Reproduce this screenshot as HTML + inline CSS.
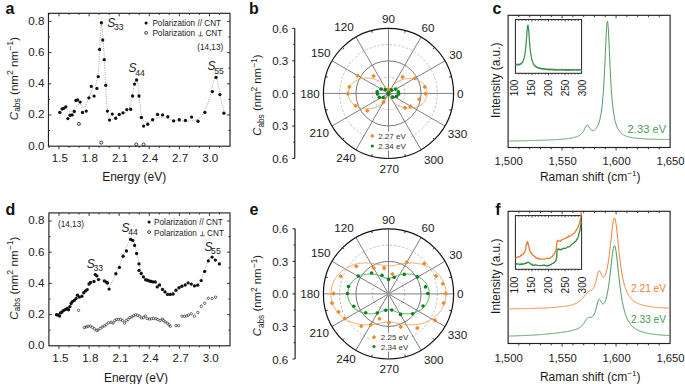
<!DOCTYPE html>
<html><head><meta charset="utf-8"><style>
html,body{margin:0;padding:0;background:#fff;overflow:hidden;width:685px;height:384px;}
svg{display:block;font-family:"Liberation Sans", sans-serif;}
</style></head><body>
<svg width="685" height="384" viewBox="0 0 685 384">
<rect width="685" height="384" fill="#fff"/>
<line x1="48.97" y1="146.2" x2="48.97" y2="147.8" stroke="#222" stroke-width="0.9"/>
<line x1="48.97" y1="13.3" x2="48.97" y2="14.9" stroke="#222" stroke-width="0.9"/>
<line x1="59" y1="146.2" x2="59" y2="149.2" stroke="#222" stroke-width="0.9"/>
<line x1="59" y1="13.3" x2="59" y2="16.3" stroke="#222" stroke-width="0.9"/>
<line x1="69.03" y1="146.2" x2="69.03" y2="147.8" stroke="#222" stroke-width="0.9"/>
<line x1="69.03" y1="13.3" x2="69.03" y2="14.9" stroke="#222" stroke-width="0.9"/>
<line x1="79.06" y1="146.2" x2="79.06" y2="147.8" stroke="#222" stroke-width="0.9"/>
<line x1="79.06" y1="13.3" x2="79.06" y2="14.9" stroke="#222" stroke-width="0.9"/>
<line x1="89.09" y1="146.2" x2="89.09" y2="149.2" stroke="#222" stroke-width="0.9"/>
<line x1="89.09" y1="13.3" x2="89.09" y2="16.3" stroke="#222" stroke-width="0.9"/>
<line x1="99.12" y1="146.2" x2="99.12" y2="147.8" stroke="#222" stroke-width="0.9"/>
<line x1="99.12" y1="13.3" x2="99.12" y2="14.9" stroke="#222" stroke-width="0.9"/>
<line x1="109.15" y1="146.2" x2="109.15" y2="147.8" stroke="#222" stroke-width="0.9"/>
<line x1="109.15" y1="13.3" x2="109.15" y2="14.9" stroke="#222" stroke-width="0.9"/>
<line x1="119.18" y1="146.2" x2="119.18" y2="149.2" stroke="#222" stroke-width="0.9"/>
<line x1="119.18" y1="13.3" x2="119.18" y2="16.3" stroke="#222" stroke-width="0.9"/>
<line x1="129.21" y1="146.2" x2="129.21" y2="147.8" stroke="#222" stroke-width="0.9"/>
<line x1="129.21" y1="13.3" x2="129.21" y2="14.9" stroke="#222" stroke-width="0.9"/>
<line x1="139.24" y1="146.2" x2="139.24" y2="147.8" stroke="#222" stroke-width="0.9"/>
<line x1="139.24" y1="13.3" x2="139.24" y2="14.9" stroke="#222" stroke-width="0.9"/>
<line x1="149.27" y1="146.2" x2="149.27" y2="149.2" stroke="#222" stroke-width="0.9"/>
<line x1="149.27" y1="13.3" x2="149.27" y2="16.3" stroke="#222" stroke-width="0.9"/>
<line x1="159.3" y1="146.2" x2="159.3" y2="147.8" stroke="#222" stroke-width="0.9"/>
<line x1="159.3" y1="13.3" x2="159.3" y2="14.9" stroke="#222" stroke-width="0.9"/>
<line x1="169.33" y1="146.2" x2="169.33" y2="147.8" stroke="#222" stroke-width="0.9"/>
<line x1="169.33" y1="13.3" x2="169.33" y2="14.9" stroke="#222" stroke-width="0.9"/>
<line x1="179.36" y1="146.2" x2="179.36" y2="149.2" stroke="#222" stroke-width="0.9"/>
<line x1="179.36" y1="13.3" x2="179.36" y2="16.3" stroke="#222" stroke-width="0.9"/>
<line x1="189.39" y1="146.2" x2="189.39" y2="147.8" stroke="#222" stroke-width="0.9"/>
<line x1="189.39" y1="13.3" x2="189.39" y2="14.9" stroke="#222" stroke-width="0.9"/>
<line x1="199.42" y1="146.2" x2="199.42" y2="147.8" stroke="#222" stroke-width="0.9"/>
<line x1="199.42" y1="13.3" x2="199.42" y2="14.9" stroke="#222" stroke-width="0.9"/>
<line x1="209.45" y1="146.2" x2="209.45" y2="149.2" stroke="#222" stroke-width="0.9"/>
<line x1="209.45" y1="13.3" x2="209.45" y2="16.3" stroke="#222" stroke-width="0.9"/>
<line x1="219.48" y1="146.2" x2="219.48" y2="147.8" stroke="#222" stroke-width="0.9"/>
<line x1="219.48" y1="13.3" x2="219.48" y2="14.9" stroke="#222" stroke-width="0.9"/>
<line x1="48.45" y1="130.6" x2="50.05" y2="130.6" stroke="#222" stroke-width="0.9"/>
<line x1="230" y1="130.6" x2="228.4" y2="130.6" stroke="#222" stroke-width="0.9"/>
<line x1="48.45" y1="115" x2="51.45" y2="115" stroke="#222" stroke-width="0.9"/>
<line x1="230" y1="115" x2="227" y2="115" stroke="#222" stroke-width="0.9"/>
<line x1="48.45" y1="99.4" x2="50.05" y2="99.4" stroke="#222" stroke-width="0.9"/>
<line x1="230" y1="99.4" x2="228.4" y2="99.4" stroke="#222" stroke-width="0.9"/>
<line x1="48.45" y1="83.8" x2="51.45" y2="83.8" stroke="#222" stroke-width="0.9"/>
<line x1="230" y1="83.8" x2="227" y2="83.8" stroke="#222" stroke-width="0.9"/>
<line x1="48.45" y1="68.2" x2="50.05" y2="68.2" stroke="#222" stroke-width="0.9"/>
<line x1="230" y1="68.2" x2="228.4" y2="68.2" stroke="#222" stroke-width="0.9"/>
<line x1="48.45" y1="52.6" x2="51.45" y2="52.6" stroke="#222" stroke-width="0.9"/>
<line x1="230" y1="52.6" x2="227" y2="52.6" stroke="#222" stroke-width="0.9"/>
<line x1="48.45" y1="37" x2="50.05" y2="37" stroke="#222" stroke-width="0.9"/>
<line x1="230" y1="37" x2="228.4" y2="37" stroke="#222" stroke-width="0.9"/>
<line x1="48.45" y1="21.4" x2="51.45" y2="21.4" stroke="#222" stroke-width="0.9"/>
<line x1="230" y1="21.4" x2="227" y2="21.4" stroke="#222" stroke-width="0.9"/>
<rect x="48.45" y="13.3" width="181.55" height="132.9" fill="none" stroke="#222" stroke-width="1.15"/>
<text x="59.8" y="161.5" font-size="11.6" text-anchor="middle" fill="#1a1a1a">1.5</text>
<text x="89.89" y="161.5" font-size="11.6" text-anchor="middle" fill="#1a1a1a">1.8</text>
<text x="119.98" y="161.5" font-size="11.6" text-anchor="middle" fill="#1a1a1a">2.1</text>
<text x="150.07" y="161.5" font-size="11.6" text-anchor="middle" fill="#1a1a1a">2.4</text>
<text x="180.16" y="161.5" font-size="11.6" text-anchor="middle" fill="#1a1a1a">2.7</text>
<text x="210.25" y="161.5" font-size="11.6" text-anchor="middle" fill="#1a1a1a">3.0</text>
<text x="44.4" y="149.5" font-size="11.6" text-anchor="end" fill="#1a1a1a">0.0</text>
<text x="44.4" y="118.3" font-size="11.6" text-anchor="end" fill="#1a1a1a">0.2</text>
<text x="44.4" y="87.1" font-size="11.6" text-anchor="end" fill="#1a1a1a">0.4</text>
<text x="44.4" y="55.9" font-size="11.6" text-anchor="end" fill="#1a1a1a">0.6</text>
<text x="44.4" y="24.7" font-size="11.6" text-anchor="end" fill="#1a1a1a">0.8</text>
<text x="134.2" y="181" font-size="12" text-anchor="middle" fill="#1a1a1a">Energy (eV)</text>
<text transform="translate(17.5 78.6) rotate(-90)" font-size="11.55" text-anchor="middle" fill="#1a1a1a"><tspan font-style="italic">C</tspan><tspan font-size="8.5" dy="2.6">abs</tspan><tspan dy="-2.6"> (nm</tspan><tspan font-size="8.8" dy="-4.7">2</tspan><tspan dy="4.7"> nm</tspan><tspan font-size="8.8" dy="-4.7">−1</tspan><tspan dy="4.7">)</tspan></text>
<text x="5.6" y="13.6" font-size="16" font-weight="bold" fill="#111">a</text>
<line x1="59" y1="345.8" x2="59" y2="348.8" stroke="#222" stroke-width="0.9"/>
<line x1="59" y1="212.9" x2="59" y2="215.9" stroke="#222" stroke-width="0.9"/>
<line x1="69.03" y1="345.8" x2="69.03" y2="347.4" stroke="#222" stroke-width="0.9"/>
<line x1="69.03" y1="212.9" x2="69.03" y2="214.5" stroke="#222" stroke-width="0.9"/>
<line x1="79.06" y1="345.8" x2="79.06" y2="347.4" stroke="#222" stroke-width="0.9"/>
<line x1="79.06" y1="212.9" x2="79.06" y2="214.5" stroke="#222" stroke-width="0.9"/>
<line x1="89.09" y1="345.8" x2="89.09" y2="348.8" stroke="#222" stroke-width="0.9"/>
<line x1="89.09" y1="212.9" x2="89.09" y2="215.9" stroke="#222" stroke-width="0.9"/>
<line x1="99.12" y1="345.8" x2="99.12" y2="347.4" stroke="#222" stroke-width="0.9"/>
<line x1="99.12" y1="212.9" x2="99.12" y2="214.5" stroke="#222" stroke-width="0.9"/>
<line x1="109.15" y1="345.8" x2="109.15" y2="347.4" stroke="#222" stroke-width="0.9"/>
<line x1="109.15" y1="212.9" x2="109.15" y2="214.5" stroke="#222" stroke-width="0.9"/>
<line x1="119.18" y1="345.8" x2="119.18" y2="348.8" stroke="#222" stroke-width="0.9"/>
<line x1="119.18" y1="212.9" x2="119.18" y2="215.9" stroke="#222" stroke-width="0.9"/>
<line x1="129.21" y1="345.8" x2="129.21" y2="347.4" stroke="#222" stroke-width="0.9"/>
<line x1="129.21" y1="212.9" x2="129.21" y2="214.5" stroke="#222" stroke-width="0.9"/>
<line x1="139.24" y1="345.8" x2="139.24" y2="347.4" stroke="#222" stroke-width="0.9"/>
<line x1="139.24" y1="212.9" x2="139.24" y2="214.5" stroke="#222" stroke-width="0.9"/>
<line x1="149.27" y1="345.8" x2="149.27" y2="348.8" stroke="#222" stroke-width="0.9"/>
<line x1="149.27" y1="212.9" x2="149.27" y2="215.9" stroke="#222" stroke-width="0.9"/>
<line x1="159.3" y1="345.8" x2="159.3" y2="347.4" stroke="#222" stroke-width="0.9"/>
<line x1="159.3" y1="212.9" x2="159.3" y2="214.5" stroke="#222" stroke-width="0.9"/>
<line x1="169.33" y1="345.8" x2="169.33" y2="347.4" stroke="#222" stroke-width="0.9"/>
<line x1="169.33" y1="212.9" x2="169.33" y2="214.5" stroke="#222" stroke-width="0.9"/>
<line x1="179.36" y1="345.8" x2="179.36" y2="348.8" stroke="#222" stroke-width="0.9"/>
<line x1="179.36" y1="212.9" x2="179.36" y2="215.9" stroke="#222" stroke-width="0.9"/>
<line x1="189.39" y1="345.8" x2="189.39" y2="347.4" stroke="#222" stroke-width="0.9"/>
<line x1="189.39" y1="212.9" x2="189.39" y2="214.5" stroke="#222" stroke-width="0.9"/>
<line x1="199.42" y1="345.8" x2="199.42" y2="347.4" stroke="#222" stroke-width="0.9"/>
<line x1="199.42" y1="212.9" x2="199.42" y2="214.5" stroke="#222" stroke-width="0.9"/>
<line x1="209.45" y1="345.8" x2="209.45" y2="348.8" stroke="#222" stroke-width="0.9"/>
<line x1="209.45" y1="212.9" x2="209.45" y2="215.9" stroke="#222" stroke-width="0.9"/>
<line x1="219.48" y1="345.8" x2="219.48" y2="347.4" stroke="#222" stroke-width="0.9"/>
<line x1="219.48" y1="212.9" x2="219.48" y2="214.5" stroke="#222" stroke-width="0.9"/>
<line x1="48.9" y1="330.2" x2="50.5" y2="330.2" stroke="#222" stroke-width="0.9"/>
<line x1="230" y1="330.2" x2="228.4" y2="330.2" stroke="#222" stroke-width="0.9"/>
<line x1="48.9" y1="314.6" x2="51.9" y2="314.6" stroke="#222" stroke-width="0.9"/>
<line x1="230" y1="314.6" x2="227" y2="314.6" stroke="#222" stroke-width="0.9"/>
<line x1="48.9" y1="299" x2="50.5" y2="299" stroke="#222" stroke-width="0.9"/>
<line x1="230" y1="299" x2="228.4" y2="299" stroke="#222" stroke-width="0.9"/>
<line x1="48.9" y1="283.4" x2="51.9" y2="283.4" stroke="#222" stroke-width="0.9"/>
<line x1="230" y1="283.4" x2="227" y2="283.4" stroke="#222" stroke-width="0.9"/>
<line x1="48.9" y1="267.8" x2="50.5" y2="267.8" stroke="#222" stroke-width="0.9"/>
<line x1="230" y1="267.8" x2="228.4" y2="267.8" stroke="#222" stroke-width="0.9"/>
<line x1="48.9" y1="252.2" x2="51.9" y2="252.2" stroke="#222" stroke-width="0.9"/>
<line x1="230" y1="252.2" x2="227" y2="252.2" stroke="#222" stroke-width="0.9"/>
<line x1="48.9" y1="236.6" x2="50.5" y2="236.6" stroke="#222" stroke-width="0.9"/>
<line x1="230" y1="236.6" x2="228.4" y2="236.6" stroke="#222" stroke-width="0.9"/>
<line x1="48.9" y1="221" x2="51.9" y2="221" stroke="#222" stroke-width="0.9"/>
<line x1="230" y1="221" x2="227" y2="221" stroke="#222" stroke-width="0.9"/>
<rect x="48.9" y="212.9" width="181.1" height="132.9" fill="none" stroke="#222" stroke-width="1.15"/>
<text x="60.3" y="362.1" font-size="11.6" text-anchor="middle" fill="#1a1a1a">1.5</text>
<text x="90.39" y="362.1" font-size="11.6" text-anchor="middle" fill="#1a1a1a">1.8</text>
<text x="120.48" y="362.1" font-size="11.6" text-anchor="middle" fill="#1a1a1a">2.1</text>
<text x="150.57" y="362.1" font-size="11.6" text-anchor="middle" fill="#1a1a1a">2.4</text>
<text x="180.66" y="362.1" font-size="11.6" text-anchor="middle" fill="#1a1a1a">2.7</text>
<text x="210.75" y="362.1" font-size="11.6" text-anchor="middle" fill="#1a1a1a">3.0</text>
<text x="44.4" y="349.1" font-size="11.6" text-anchor="end" fill="#1a1a1a">0.0</text>
<text x="44.4" y="317.9" font-size="11.6" text-anchor="end" fill="#1a1a1a">0.2</text>
<text x="44.4" y="286.7" font-size="11.6" text-anchor="end" fill="#1a1a1a">0.4</text>
<text x="44.4" y="255.5" font-size="11.6" text-anchor="end" fill="#1a1a1a">0.6</text>
<text x="44.4" y="224.3" font-size="11.6" text-anchor="end" fill="#1a1a1a">0.8</text>
<text x="135.9" y="381.7" font-size="12" text-anchor="middle" fill="#1a1a1a">Energy (eV)</text>
<text transform="translate(17.5 278.2) rotate(-90)" font-size="11.55" text-anchor="middle" fill="#1a1a1a"><tspan font-style="italic">C</tspan><tspan font-size="8.5" dy="2.6">abs</tspan><tspan dy="-2.6"> (nm</tspan><tspan font-size="8.8" dy="-4.7">2</tspan><tspan dy="4.7"> nm</tspan><tspan font-size="8.8" dy="-4.7">−1</tspan><tspan dy="4.7">)</tspan></text>
<text x="5.6" y="214.8" font-size="16" font-weight="bold" fill="#111">d</text>
<polyline points="59.6,118 59.99,116.65 60.55,114.69 61.23,112.63 62,111 62.89,109.8 63.9,108.81 64.96,108.16 66,108 66.98,108.7 67.94,110.06 68.93,111.4 70,112 71.18,111.56 72.44,110.5 73.73,109.19 75,108 76.27,106.81 77.56,105.5 78.82,104.44 80,104 81.07,104.72 82.06,106.25 83.02,107.66 84,108 85,106.89 86,104.88 87,102.42 88,100 89,97.55 90,94.88 91,92.27 92,90 93.04,88.41 94.09,87.25 95.11,85.97 96,84 96.74,81.55 97.38,78.81 97.95,75.16 98.5,70 99.06,62.16 99.59,52.31 100.08,42.55 100.5,35 100.81,29.98 101.03,26.44 101.24,24.43 101.5,24 101.84,25.51 102.22,28.81 102.61,33.21 103,38 103.38,43.16 103.75,49 104.12,55.34 104.5,62 104.86,69.27 105.22,77.12 105.59,84.92 106,92 106.44,98.44 106.91,104.5 107.42,109.81 108,114 108.63,116.84 109.31,118.56 110.09,119.51 111,120 112.09,119.88 113.31,119.06 114.63,117.96 116,117 117.43,116.25 118.94,115.5 120.48,114.75 122,114 123.57,113.39 125.19,112.88 126.71,112.17 128,111 128.97,109.29 129.72,107.19 130.36,104.74 131,102 131.67,98.71 132.31,94.94 132.92,91.2 133.5,88 134.04,85.34 134.53,83 135.01,81.16 135.5,80 136,79.42 136.5,79.38 137,80.14 137.5,82 138,85.45 138.5,90.19 139,95.34 139.5,100 139.99,104.17 140.47,108.25 140.96,111.95 141.5,115 142.01,117.25 142.5,118.88 143.12,120.06 144,121 145.23,121.72 146.72,122.12 148.35,122.22 150,122 151.66,121.26 153.38,120.06 155.16,118.84 157,118 158.95,117.67 161,117.62 163.05,117.77 165,118 166.8,118.38 168.5,118.94 170.2,119.52 172,120 173.88,120.34 175.81,120.62 177.84,120.84 180,121 182.41,121.12 185,121.19 187.59,121.16 190,121 192.19,120.76 194.25,120.44 196.19,119.9 198,119 199.66,117.72 201.19,116.12 202.62,114.22 204,112 205.34,109.45 206.62,106.56 207.84,103.4 209,100 210.09,96.07 211.12,91.69 212.09,87.46 213,84 213.82,81.2 214.56,78.81 215.27,77.27 216,77 216.75,78.37 217.5,81.06 218.25,84.48 219,88 219.75,91.79 220.5,96.06 221.25,100.3 222,104 222.82,107.16 223.69,110 224.46,112.34 225,114" fill="none" stroke="#999" stroke-width="0.8" stroke-linejoin="round" stroke-dasharray="1.2 1.2"/>
<circle cx="59.8" cy="112.4" r="1.65" fill="#111"/>
<circle cx="62.1" cy="108.9" r="1.65" fill="#111"/>
<circle cx="63.75" cy="108.3" r="1.65" fill="#111"/>
<circle cx="65.8" cy="106.8" r="1.65" fill="#111"/>
<circle cx="67.9" cy="118.6" r="1.65" fill="#111"/>
<circle cx="70.1" cy="115.25" r="1.65" fill="#111"/>
<circle cx="72.2" cy="114.9" r="1.65" fill="#111"/>
<circle cx="74.25" cy="111.5" r="1.65" fill="#111"/>
<circle cx="75.9" cy="100.4" r="1.65" fill="#111"/>
<circle cx="77.6" cy="99.9" r="1.65" fill="#111"/>
<circle cx="80.1" cy="102.1" r="1.65" fill="#111"/>
<circle cx="82.5" cy="112.4" r="1.65" fill="#111"/>
<circle cx="86.25" cy="111.1" r="1.65" fill="#111"/>
<circle cx="88.9" cy="97.8" r="1.65" fill="#111"/>
<circle cx="91.3" cy="86.4" r="1.65" fill="#111"/>
<circle cx="94.1" cy="96.1" r="1.65" fill="#111"/>
<circle cx="96.9" cy="88.4" r="1.65" fill="#111"/>
<circle cx="98.25" cy="76.6" r="1.65" fill="#111"/>
<circle cx="99.6" cy="49.4" r="1.65" fill="#111"/>
<circle cx="101.4" cy="22.75" r="1.65" fill="#111"/>
<circle cx="102.75" cy="40" r="1.65" fill="#111"/>
<circle cx="104.25" cy="59.7" r="1.65" fill="#111"/>
<circle cx="105.75" cy="85.25" r="1.65" fill="#111"/>
<circle cx="107.4" cy="111.1" r="1.65" fill="#111"/>
<circle cx="109.5" cy="120.1" r="1.65" fill="#111"/>
<circle cx="112.3" cy="114.1" r="1.65" fill="#111"/>
<circle cx="115.7" cy="118.25" r="1.65" fill="#111"/>
<circle cx="119.25" cy="114.5" r="1.65" fill="#111"/>
<circle cx="123" cy="112.8" r="1.65" fill="#111"/>
<circle cx="126.75" cy="109.6" r="1.65" fill="#111"/>
<circle cx="130.7" cy="109.25" r="1.65" fill="#111"/>
<circle cx="132.6" cy="96" r="1.65" fill="#111"/>
<circle cx="134.6" cy="84.1" r="1.65" fill="#111"/>
<circle cx="136.6" cy="80" r="1.65" fill="#111"/>
<circle cx="139" cy="96" r="1.65" fill="#111"/>
<circle cx="141.4" cy="117.5" r="1.65" fill="#111"/>
<circle cx="143.6" cy="126.1" r="1.65" fill="#111"/>
<circle cx="147.75" cy="124.25" r="1.65" fill="#111"/>
<circle cx="152.6" cy="119.75" r="1.65" fill="#111"/>
<circle cx="157.5" cy="114.5" r="1.65" fill="#111"/>
<circle cx="162.6" cy="114.9" r="1.65" fill="#111"/>
<circle cx="167.8" cy="116.75" r="1.65" fill="#111"/>
<circle cx="173.6" cy="120.9" r="1.65" fill="#111"/>
<circle cx="179.25" cy="119.75" r="1.65" fill="#111"/>
<circle cx="185.4" cy="120.5" r="1.65" fill="#111"/>
<circle cx="191.6" cy="117.1" r="1.65" fill="#111"/>
<circle cx="198" cy="121.25" r="1.65" fill="#111"/>
<circle cx="204.9" cy="112.4" r="1.65" fill="#111"/>
<circle cx="212.4" cy="91.6" r="1.65" fill="#111"/>
<circle cx="216" cy="77.4" r="1.65" fill="#111"/>
<circle cx="219.9" cy="94.6" r="1.65" fill="#111"/>
<circle cx="223.9" cy="113.2" r="1.65" fill="#111"/>
<circle cx="78.9" cy="123.9" r="1.5" fill="none" stroke="#1a1a1a" stroke-width="0.85"/>
<circle cx="101.25" cy="142.6" r="1.5" fill="none" stroke="#1a1a1a" stroke-width="0.85"/>
<circle cx="136.3" cy="144.4" r="1.5" fill="none" stroke="#1a1a1a" stroke-width="0.85"/>
<circle cx="143.6" cy="144.5" r="1.5" fill="none" stroke="#1a1a1a" stroke-width="0.85"/>
<text x="107.2" y="26.8" font-size="12" fill="#1a1a1a"><tspan font-style="italic">S</tspan><tspan font-size="8.6" dx="-1.3" dy="3.4">33</tspan></text>
<text x="128.6" y="72.4" font-size="12" fill="#1a1a1a"><tspan font-style="italic">S</tspan><tspan font-size="8.6" dx="-1.3" dy="3.4">44</tspan></text>
<text x="207.6" y="70.4" font-size="12" fill="#1a1a1a"><tspan font-style="italic">S</tspan><tspan font-size="8.6" dx="-1.3" dy="3.4">55</tspan></text>
<circle cx="146.1" cy="23" r="1.55" fill="#111"/>
<text x="152.4" y="26.2" font-size="8.2" fill="#1a1a1a">Polarization // CNT</text>
<circle cx="146.1" cy="32.9" r="1.4" fill="none" stroke="#1a1a1a" stroke-width="0.8"/>
<text x="152.4" y="36.2" font-size="8.2" fill="#1a1a1a">Polarization</text>
<line x1="198.35" y1="35.85" x2="203.05" y2="35.85" stroke="#333" stroke-width="0.75"/>
<line x1="200.7" y1="31.5" x2="200.7" y2="35.85" stroke="#333" stroke-width="0.75"/>
<text x="205.4" y="36.2" font-size="8.2" fill="#1a1a1a">CNT</text>
<text x="223.2" y="50.4" font-size="8.2" text-anchor="end" fill="#1a1a1a">(14,13)</text>
<polyline points="98,279 99.1,279.27 100.69,279.62 102.43,280.17 104,281 105.37,282.48 106.69,284.44 107.91,286.18 109,287 109.87,286.62 110.56,285.44 111.23,283.79 112,282 112.93,280.01 113.94,277.69 114.98,275.27 116,273 117,271 118,269.12 119,267.19 120,265 121,262.44 122,259.62 123,256.75 124,254 125.02,251.34 126.06,248.69 127.07,246.2 128,244 128.82,241.98 129.56,240.12 130.27,238.7 131,238 131.75,238.11 132.5,238.88 133.25,240.2 134,242 134.76,244.44 135.53,247.5 136.29,250.81 137,254 137.66,257.09 138.28,260.25 138.89,263.28 139.5,266 140.09,268.35 140.66,270.44 141.27,272.3 142,274 142.85,275.53 143.78,276.88 144.82,278.03 146,279 147.38,279.69 148.94,280.12 150.52,280.5 152,281 153.3,281.63 154.5,282.31 155.7,283.09 157,284 158.45,285.13 160,286.44 161.55,287.77 163,289 164.32,290.19 165.56,291.38 166.77,292.38 168,293 169.2,293.2 170.38,293.06 171.61,292.65 173,292 174.59,290.98 176.31,289.62 178.13,288.2 180,287 181.93,286.02 183.94,285.12 185.98,284.42 188,284 190.09,284.06 192.25,284.5 194.28,284.94 196,285 197.28,284.7 198.25,284.19 199.09,283.34 200,282 201,280.02 202,277.5 203,274.73 204,272 205,269.16 206,266.12 207,263.28 208,261 209,259.34 210,258.12 211,257.34 212,257 213,257.23 214,258 215,259.02 216,260 217.09,261.02 218.25,262.19 219.28,263.26 220,264" fill="none" stroke="#999" stroke-width="0.8" stroke-linejoin="round" stroke-dasharray="1.2 1.2"/>
<circle cx="56.5" cy="314.75" r="1.65" fill="#111"/>
<circle cx="58" cy="315" r="1.65" fill="#111"/>
<circle cx="59.5" cy="316" r="1.65" fill="#111"/>
<circle cx="60.5" cy="312.9" r="1.65" fill="#111"/>
<circle cx="62" cy="312" r="1.65" fill="#111"/>
<circle cx="63.6" cy="310.4" r="1.65" fill="#111"/>
<circle cx="65.5" cy="309.5" r="1.65" fill="#111"/>
<circle cx="67.4" cy="308.5" r="1.65" fill="#111"/>
<circle cx="68.6" cy="309.75" r="1.65" fill="#111"/>
<circle cx="69.9" cy="306.6" r="1.65" fill="#111"/>
<circle cx="71.1" cy="303.5" r="1.65" fill="#111"/>
<circle cx="72.4" cy="301.6" r="1.65" fill="#111"/>
<circle cx="74.25" cy="300.4" r="1.65" fill="#111"/>
<circle cx="76.1" cy="298.5" r="1.65" fill="#111"/>
<circle cx="77.5" cy="295.25" r="1.65" fill="#111"/>
<circle cx="79.4" cy="297.1" r="1.65" fill="#111"/>
<circle cx="81.9" cy="296.25" r="1.65" fill="#111"/>
<circle cx="83.75" cy="292.75" r="1.65" fill="#111"/>
<circle cx="85.6" cy="290.9" r="1.65" fill="#111"/>
<circle cx="87.25" cy="289.6" r="1.65" fill="#111"/>
<circle cx="89" cy="284" r="1.65" fill="#111"/>
<circle cx="90.6" cy="282.5" r="1.65" fill="#111"/>
<circle cx="94" cy="281.5" r="1.65" fill="#111"/>
<circle cx="95.25" cy="274.6" r="1.65" fill="#111"/>
<circle cx="96.9" cy="275.9" r="1.65" fill="#111"/>
<circle cx="98.5" cy="279.6" r="1.65" fill="#111"/>
<circle cx="104.4" cy="280.9" r="1.65" fill="#111"/>
<circle cx="106.25" cy="282.1" r="1.65" fill="#111"/>
<circle cx="107.6" cy="283" r="1.65" fill="#111"/>
<circle cx="109.1" cy="289.1" r="1.65" fill="#111"/>
<circle cx="115.9" cy="273.75" r="1.65" fill="#111"/>
<circle cx="119.4" cy="267.4" r="1.65" fill="#111"/>
<circle cx="123.1" cy="256.25" r="1.65" fill="#111"/>
<circle cx="126.5" cy="251" r="1.65" fill="#111"/>
<circle cx="130.6" cy="239.4" r="1.65" fill="#111"/>
<circle cx="132.75" cy="240.4" r="1.65" fill="#111"/>
<circle cx="134.6" cy="245.4" r="1.65" fill="#111"/>
<circle cx="136.6" cy="253.5" r="1.65" fill="#111"/>
<circle cx="139" cy="263.9" r="1.65" fill="#111"/>
<circle cx="139" cy="270.4" r="1.65" fill="#111"/>
<circle cx="141.25" cy="273.5" r="1.65" fill="#111"/>
<circle cx="143.4" cy="276.9" r="1.65" fill="#111"/>
<circle cx="145.6" cy="279.75" r="1.65" fill="#111"/>
<circle cx="147.5" cy="280.25" r="1.65" fill="#111"/>
<circle cx="149.4" cy="281" r="1.65" fill="#111"/>
<circle cx="151.25" cy="281.5" r="1.65" fill="#111"/>
<circle cx="153.1" cy="281.9" r="1.65" fill="#111"/>
<circle cx="155.3" cy="281.9" r="1.65" fill="#111"/>
<circle cx="157.25" cy="286.9" r="1.65" fill="#111"/>
<circle cx="159.5" cy="284.9" r="1.65" fill="#111"/>
<circle cx="162.5" cy="289.4" r="1.65" fill="#111"/>
<circle cx="165" cy="291.9" r="1.65" fill="#111"/>
<circle cx="167.5" cy="294.4" r="1.65" fill="#111"/>
<circle cx="170.25" cy="294.4" r="1.65" fill="#111"/>
<circle cx="173.1" cy="294" r="1.65" fill="#111"/>
<circle cx="176" cy="290.25" r="1.65" fill="#111"/>
<circle cx="179" cy="287.75" r="1.65" fill="#111"/>
<circle cx="181.9" cy="286.25" r="1.65" fill="#111"/>
<circle cx="185.2" cy="285" r="1.65" fill="#111"/>
<circle cx="188.1" cy="282.8" r="1.65" fill="#111"/>
<circle cx="191.25" cy="284.1" r="1.65" fill="#111"/>
<circle cx="194.5" cy="285.9" r="1.65" fill="#111"/>
<circle cx="197.7" cy="285.2" r="1.65" fill="#111"/>
<circle cx="201.2" cy="280.6" r="1.65" fill="#111"/>
<circle cx="204.7" cy="271.4" r="1.65" fill="#111"/>
<circle cx="208.3" cy="260.9" r="1.65" fill="#111"/>
<circle cx="212.1" cy="257.1" r="1.65" fill="#111"/>
<circle cx="215.4" cy="260.1" r="1.65" fill="#111"/>
<circle cx="219.4" cy="263.9" r="1.65" fill="#111"/>
<circle cx="78.6" cy="310.4" r="1.2" fill="none" stroke="#333" stroke-width="0.72"/>
<circle cx="84.25" cy="327.5" r="1.2" fill="none" stroke="#333" stroke-width="0.72"/>
<circle cx="86.1" cy="327" r="1.2" fill="none" stroke="#333" stroke-width="0.72"/>
<circle cx="88" cy="326.25" r="1.2" fill="none" stroke="#333" stroke-width="0.72"/>
<circle cx="90.25" cy="326" r="1.2" fill="none" stroke="#333" stroke-width="0.72"/>
<circle cx="92.4" cy="327.25" r="1.2" fill="none" stroke="#333" stroke-width="0.72"/>
<circle cx="94.5" cy="328.75" r="1.2" fill="none" stroke="#333" stroke-width="0.72"/>
<circle cx="96.5" cy="330.4" r="1.2" fill="none" stroke="#333" stroke-width="0.72"/>
<circle cx="98" cy="330" r="1.2" fill="none" stroke="#333" stroke-width="0.72"/>
<circle cx="100.2" cy="328.4" r="1.2" fill="none" stroke="#333" stroke-width="0.72"/>
<circle cx="102.2" cy="327" r="1.2" fill="none" stroke="#333" stroke-width="0.72"/>
<circle cx="104.2" cy="325.9" r="1.2" fill="none" stroke="#333" stroke-width="0.72"/>
<circle cx="106.2" cy="324.7" r="1.2" fill="none" stroke="#333" stroke-width="0.72"/>
<circle cx="108.5" cy="322.8" r="1.2" fill="none" stroke="#333" stroke-width="0.72"/>
<circle cx="111" cy="322.25" r="1.2" fill="none" stroke="#333" stroke-width="0.72"/>
<circle cx="113.1" cy="323.1" r="1.2" fill="none" stroke="#333" stroke-width="0.72"/>
<circle cx="114.75" cy="320.6" r="1.2" fill="none" stroke="#333" stroke-width="0.72"/>
<circle cx="116.5" cy="319.4" r="1.2" fill="none" stroke="#333" stroke-width="0.72"/>
<circle cx="118.5" cy="319.4" r="1.2" fill="none" stroke="#333" stroke-width="0.72"/>
<circle cx="120.6" cy="319.4" r="1.2" fill="none" stroke="#333" stroke-width="0.72"/>
<circle cx="122.5" cy="320.6" r="1.2" fill="none" stroke="#333" stroke-width="0.72"/>
<circle cx="124.6" cy="323.1" r="1.2" fill="none" stroke="#333" stroke-width="0.72"/>
<circle cx="126.25" cy="320.6" r="1.2" fill="none" stroke="#333" stroke-width="0.72"/>
<circle cx="128.1" cy="319.4" r="1.2" fill="none" stroke="#333" stroke-width="0.72"/>
<circle cx="130" cy="317.5" r="1.2" fill="none" stroke="#333" stroke-width="0.72"/>
<circle cx="131.9" cy="316.9" r="1.2" fill="none" stroke="#333" stroke-width="0.72"/>
<circle cx="133.75" cy="315.6" r="1.2" fill="none" stroke="#333" stroke-width="0.72"/>
<circle cx="135.6" cy="314.75" r="1.2" fill="none" stroke="#333" stroke-width="0.72"/>
<circle cx="137.5" cy="315.25" r="1.2" fill="none" stroke="#333" stroke-width="0.72"/>
<circle cx="139.75" cy="316.25" r="1.2" fill="none" stroke="#333" stroke-width="0.72"/>
<circle cx="141.6" cy="318.1" r="1.2" fill="none" stroke="#333" stroke-width="0.72"/>
<circle cx="143.5" cy="317.5" r="1.2" fill="none" stroke="#333" stroke-width="0.72"/>
<circle cx="145.25" cy="316" r="1.2" fill="none" stroke="#333" stroke-width="0.72"/>
<circle cx="147.25" cy="318.5" r="1.2" fill="none" stroke="#333" stroke-width="0.72"/>
<circle cx="149.4" cy="319" r="1.2" fill="none" stroke="#333" stroke-width="0.72"/>
<circle cx="151.5" cy="318.75" r="1.2" fill="none" stroke="#333" stroke-width="0.72"/>
<circle cx="153.5" cy="318.5" r="1.2" fill="none" stroke="#333" stroke-width="0.72"/>
<circle cx="155.8" cy="318.7" r="1.2" fill="none" stroke="#333" stroke-width="0.72"/>
<circle cx="157.8" cy="319.5" r="1.2" fill="none" stroke="#333" stroke-width="0.72"/>
<circle cx="160" cy="320.6" r="1.2" fill="none" stroke="#333" stroke-width="0.72"/>
<circle cx="162.25" cy="319" r="1.2" fill="none" stroke="#333" stroke-width="0.72"/>
<circle cx="163.5" cy="320.6" r="1.2" fill="none" stroke="#333" stroke-width="0.72"/>
<circle cx="165.25" cy="321.9" r="1.2" fill="none" stroke="#333" stroke-width="0.72"/>
<circle cx="167.25" cy="323.1" r="1.2" fill="none" stroke="#333" stroke-width="0.72"/>
<circle cx="169" cy="324.75" r="1.2" fill="none" stroke="#333" stroke-width="0.72"/>
<circle cx="170.25" cy="326.25" r="1.2" fill="none" stroke="#333" stroke-width="0.72"/>
<circle cx="176" cy="325.6" r="1.2" fill="none" stroke="#333" stroke-width="0.72"/>
<circle cx="178.5" cy="325.6" r="1.2" fill="none" stroke="#333" stroke-width="0.72"/>
<circle cx="181.9" cy="316.25" r="1.2" fill="none" stroke="#333" stroke-width="0.72"/>
<circle cx="184.4" cy="316.25" r="1.2" fill="none" stroke="#333" stroke-width="0.72"/>
<circle cx="186.5" cy="316" r="1.2" fill="none" stroke="#333" stroke-width="0.72"/>
<circle cx="188.5" cy="315" r="1.2" fill="none" stroke="#333" stroke-width="0.72"/>
<circle cx="191.25" cy="313.75" r="1.2" fill="none" stroke="#333" stroke-width="0.72"/>
<circle cx="194.4" cy="316.25" r="1.2" fill="none" stroke="#333" stroke-width="0.72"/>
<circle cx="197.9" cy="312.5" r="1.2" fill="none" stroke="#333" stroke-width="0.72"/>
<circle cx="201.25" cy="306.25" r="1.2" fill="none" stroke="#333" stroke-width="0.72"/>
<circle cx="204.6" cy="303.3" r="1.2" fill="none" stroke="#333" stroke-width="0.72"/>
<circle cx="208.2" cy="298.3" r="1.2" fill="none" stroke="#333" stroke-width="0.72"/>
<circle cx="212.1" cy="298.5" r="1.2" fill="none" stroke="#333" stroke-width="0.72"/>
<circle cx="215.7" cy="297.1" r="1.2" fill="none" stroke="#333" stroke-width="0.72"/>
<text x="86.8" y="267.6" font-size="12" fill="#1a1a1a"><tspan font-style="italic">S</tspan><tspan font-size="8.6" dx="-1.3" dy="3.4">33</tspan></text>
<text x="121.5" y="231.6" font-size="12" fill="#1a1a1a"><tspan font-style="italic">S</tspan><tspan font-size="8.6" dx="-1.3" dy="3.4">44</tspan></text>
<text x="204.4" y="250.8" font-size="12" fill="#1a1a1a"><tspan font-style="italic">S</tspan><tspan font-size="8.6" dx="-1.3" dy="3.4">55</tspan></text>
<circle cx="149.1" cy="222" r="1.55" fill="#111"/>
<text x="154.1" y="225.2" font-size="8.2" fill="#1a1a1a">Polarization // CNT</text>
<circle cx="149.1" cy="232.1" r="1.4" fill="none" stroke="#1a1a1a" stroke-width="0.8"/>
<text x="154.1" y="236" font-size="8.2" fill="#1a1a1a">Polarization</text>
<line x1="200.05" y1="235.65" x2="204.75" y2="235.65" stroke="#333" stroke-width="0.75"/>
<line x1="202.4" y1="231.3" x2="202.4" y2="235.65" stroke="#333" stroke-width="0.75"/>
<text x="207.1" y="236" font-size="8.2" fill="#1a1a1a">CNT</text>
<text x="58" y="226.6" font-size="8.2" fill="#1a1a1a">(14,13)</text>
<circle cx="388.5" cy="93.4" r="16.27" fill="none" stroke="#b4b8c0" stroke-width="0.9" stroke-dasharray="2.4 1.8"/>
<circle cx="388.5" cy="93.4" r="32.55" fill="none" stroke="#7a7a7a" stroke-width="1.0"/>
<circle cx="388.5" cy="93.4" r="48.82" fill="none" stroke="#b4b8c0" stroke-width="0.9" stroke-dasharray="2.4 1.8"/>
<line x1="388.5" y1="93.4" x2="453.6" y2="93.4" stroke="#727272" stroke-width="0.9"/>
<line x1="388.5" y1="93.4" x2="444.88" y2="60.85" stroke="#727272" stroke-width="0.9"/>
<line x1="388.5" y1="93.4" x2="421.05" y2="37.02" stroke="#727272" stroke-width="0.9"/>
<line x1="388.5" y1="93.4" x2="388.5" y2="28.3" stroke="#727272" stroke-width="0.9"/>
<line x1="388.5" y1="93.4" x2="355.95" y2="37.02" stroke="#727272" stroke-width="0.9"/>
<line x1="388.5" y1="93.4" x2="332.12" y2="60.85" stroke="#727272" stroke-width="0.9"/>
<line x1="388.5" y1="93.4" x2="323.4" y2="93.4" stroke="#727272" stroke-width="0.9"/>
<line x1="388.5" y1="93.4" x2="332.12" y2="125.95" stroke="#727272" stroke-width="0.9"/>
<line x1="388.5" y1="93.4" x2="355.95" y2="149.78" stroke="#727272" stroke-width="0.9"/>
<line x1="388.5" y1="93.4" x2="388.5" y2="158.5" stroke="#727272" stroke-width="0.9"/>
<line x1="388.5" y1="93.4" x2="421.05" y2="149.78" stroke="#727272" stroke-width="0.9"/>
<line x1="388.5" y1="93.4" x2="444.88" y2="125.95" stroke="#727272" stroke-width="0.9"/>
<circle cx="388.5" cy="93.4" r="65.1" fill="none" stroke="#111" stroke-width="1.2"/>
<line x1="451.38" y1="76.55" x2="449.26" y2="77.12" stroke="#111" stroke-width="0.9"/>
<line x1="434.53" y1="47.37" x2="432.98" y2="48.92" stroke="#111" stroke-width="0.9"/>
<line x1="405.35" y1="30.52" x2="404.78" y2="32.64" stroke="#111" stroke-width="0.9"/>
<line x1="371.65" y1="30.52" x2="372.22" y2="32.64" stroke="#111" stroke-width="0.9"/>
<line x1="342.47" y1="47.37" x2="344.02" y2="48.92" stroke="#111" stroke-width="0.9"/>
<line x1="325.62" y1="76.55" x2="327.74" y2="77.12" stroke="#111" stroke-width="0.9"/>
<line x1="325.62" y1="110.25" x2="327.74" y2="109.68" stroke="#111" stroke-width="0.9"/>
<line x1="342.47" y1="139.43" x2="344.02" y2="137.88" stroke="#111" stroke-width="0.9"/>
<line x1="371.65" y1="156.28" x2="372.22" y2="154.16" stroke="#111" stroke-width="0.9"/>
<line x1="405.35" y1="156.28" x2="404.78" y2="154.16" stroke="#111" stroke-width="0.9"/>
<line x1="434.53" y1="139.43" x2="432.98" y2="137.88" stroke="#111" stroke-width="0.9"/>
<line x1="451.38" y1="110.25" x2="449.26" y2="109.68" stroke="#111" stroke-width="0.9"/>
<text x="460.15" y="97.6" font-size="11.7" text-anchor="middle" fill="#1a1a1a">0</text>
<text x="455.65" y="58.7" font-size="11.7" text-anchor="middle" fill="#1a1a1a">30</text>
<text x="428.1" y="31.95" font-size="11.7" text-anchor="middle" fill="#1a1a1a">60</text>
<text x="388.5" y="23.2" font-size="11.7" text-anchor="middle" fill="#1a1a1a">90</text>
<text x="344.1" y="31.2" font-size="11.7" text-anchor="middle" fill="#1a1a1a">120</text>
<text x="320.7" y="56.8" font-size="11.7" text-anchor="middle" fill="#1a1a1a">150</text>
<text x="310" y="97.6" font-size="11.7" text-anchor="middle" fill="#1a1a1a">180</text>
<text x="319.2" y="136.9" font-size="11.7" text-anchor="middle" fill="#1a1a1a">210</text>
<text x="345.9" y="162.4" font-size="11.7" text-anchor="middle" fill="#1a1a1a">240</text>
<text x="389.3" y="172.8" font-size="11.7" text-anchor="middle" fill="#1a1a1a">270</text>
<text x="433.75" y="163.5" font-size="11.7" text-anchor="middle" fill="#1a1a1a">300</text>
<text x="457.5" y="138.3" font-size="11.7" text-anchor="middle" fill="#1a1a1a">330</text>
<line x1="294.75" y1="28.3" x2="294.75" y2="158.5" stroke="#111" stroke-width="1.1"/>
<line x1="292.15" y1="28.3" x2="294.75" y2="28.3" stroke="#111" stroke-width="0.9"/>
<line x1="293.25" y1="44.58" x2="294.75" y2="44.58" stroke="#111" stroke-width="0.9"/>
<line x1="292.15" y1="60.85" x2="294.75" y2="60.85" stroke="#111" stroke-width="0.9"/>
<line x1="293.25" y1="77.12" x2="294.75" y2="77.12" stroke="#111" stroke-width="0.9"/>
<line x1="292.15" y1="93.4" x2="294.75" y2="93.4" stroke="#111" stroke-width="0.9"/>
<line x1="293.25" y1="109.68" x2="294.75" y2="109.68" stroke="#111" stroke-width="0.9"/>
<line x1="292.15" y1="125.95" x2="294.75" y2="125.95" stroke="#111" stroke-width="0.9"/>
<line x1="293.25" y1="142.22" x2="294.75" y2="142.22" stroke="#111" stroke-width="0.9"/>
<line x1="292.15" y1="158.5" x2="294.75" y2="158.5" stroke="#111" stroke-width="0.9"/>
<text x="288.2" y="32.8" font-size="11.5" text-anchor="end" fill="#1a1a1a">0.6</text>
<text x="288.2" y="65.35" font-size="11.5" text-anchor="end" fill="#1a1a1a">0.3</text>
<text x="288.2" y="97.9" font-size="11.5" text-anchor="end" fill="#1a1a1a">0.0</text>
<text x="288.2" y="130.45" font-size="11.5" text-anchor="end" fill="#1a1a1a">0.3</text>
<text x="288.2" y="163" font-size="11.5" text-anchor="end" fill="#1a1a1a">0.6</text>
<text transform="translate(261.4 95.1) rotate(-90)" font-size="11.3" text-anchor="middle" fill="#1a1a1a"><tspan font-style="italic">C</tspan><tspan font-size="8.3" dy="2.5">abs</tspan><tspan dy="-2.5"> (nm</tspan><tspan font-size="8.6" dy="-4.6">2</tspan><tspan dy="4.6"> nm</tspan><tspan font-size="8.6" dy="-4.6">−1</tspan><tspan dy="4.6">)</tspan></text>
<text x="249" y="13.6" font-size="16" font-weight="bold" fill="#111">b</text>
<polyline points="427.2,93.4 427.16,92.39 427.04,91.38 426.84,90.38 426.57,89.4 426.22,88.43 425.79,87.49 425.29,86.58 424.72,85.7 424.08,84.86 423.38,84.05 422.61,83.3 421.79,82.58 420.92,81.92 419.99,81.31 419.02,80.76 418.01,80.26 416.96,79.83 415.87,79.45 414.77,79.14 413.64,78.89 412.49,78.7 411.33,78.57 410.16,78.51 408.99,78.51 407.82,78.57 406.66,78.69 405.52,78.87 404.38,79.1 403.27,79.38 402.18,79.72 401.12,80.1 400.09,80.52 399.1,80.99 398.15,81.49 397.23,82.02 396.36,82.58 395.53,83.17 394.75,83.77 394.02,84.39 393.34,85.02 392.7,85.66 392.12,86.29 391.59,86.93 391.1,87.55 390.67,88.16 390.28,88.76 389.94,89.34 389.64,89.89 389.39,90.41 389.17,90.9 388.99,91.35 388.85,91.76 388.73,92.14 388.65,92.46 388.59,92.75 388.54,92.98 388.52,93.16 388.51,93.29 388.5,93.37 388.5,93.4 388.5,93.37 388.49,93.29 388.48,93.15 388.45,92.96 388.41,92.72 388.35,92.43 388.26,92.08 388.14,91.7 387.99,91.26 387.8,90.79 387.58,90.28 387.31,89.74 387,89.17 386.65,88.57 386.24,87.95 385.79,87.31 385.28,86.66 384.73,86 384.12,85.34 383.46,84.67 382.75,84.02 381.99,83.37 381.18,82.74 380.32,82.14 379.41,81.55 378.46,81 377.46,80.47 376.43,79.99 375.36,79.55 374.25,79.15 373.12,78.8 371.96,78.51 370.78,78.27 369.58,78.08 368.38,77.96 367.16,77.9 365.94,77.9 364.73,77.96 363.52,78.09 362.32,78.29 361.15,78.55 359.99,78.88 358.87,79.27 357.77,79.72 356.72,80.24 355.71,80.81 354.74,81.45 353.83,82.14 352.98,82.88 352.18,83.67 351.45,84.5 350.78,85.38 350.19,86.3 349.67,87.25 349.23,88.23 348.86,89.23 348.57,90.26 348.37,91.3 348.24,92.35 348.2,93.4 348.24,94.45 348.37,95.5 348.57,96.54 348.86,97.57 349.23,98.57 349.67,99.55 350.19,100.5 350.78,101.42 351.45,102.3 352.18,103.13 352.98,103.92 353.83,104.66 354.74,105.35 355.71,105.99 356.72,106.56 357.77,107.08 358.87,107.53 359.99,107.92 361.15,108.25 362.32,108.51 363.52,108.71 364.73,108.84 365.94,108.9 367.16,108.9 368.38,108.84 369.58,108.72 370.78,108.53 371.96,108.29 373.12,108 374.25,107.65 375.36,107.25 376.43,106.81 377.46,106.33 378.46,105.8 379.41,105.25 380.32,104.66 381.18,104.06 381.99,103.43 382.75,102.78 383.46,102.13 384.12,101.46 384.73,100.8 385.28,100.14 385.79,99.49 386.24,98.85 386.65,98.23 387,97.63 387.31,97.06 387.58,96.52 387.8,96.01 387.99,95.54 388.14,95.1 388.26,94.72 388.35,94.37 388.41,94.08 388.45,93.84 388.48,93.65 388.49,93.51 388.5,93.43 388.5,93.4 388.5,93.43 388.51,93.51 388.52,93.64 388.54,93.82 388.59,94.05 388.65,94.34 388.73,94.66 388.85,95.04 388.99,95.45 389.17,95.9 389.39,96.39 389.64,96.91 389.94,97.46 390.28,98.04 390.67,98.64 391.1,99.25 391.59,99.87 392.12,100.51 392.7,101.14 393.34,101.78 394.02,102.41 394.75,103.03 395.53,103.63 396.36,104.22 397.23,104.78 398.15,105.31 399.1,105.81 400.09,106.28 401.12,106.7 402.18,107.08 403.27,107.42 404.38,107.7 405.52,107.93 406.66,108.11 407.82,108.23 408.99,108.29 410.16,108.29 411.33,108.23 412.49,108.1 413.64,107.91 414.77,107.66 415.87,107.35 416.96,106.97 418.01,106.54 419.02,106.04 419.99,105.49 420.92,104.88 421.79,104.22 422.61,103.5 423.38,102.75 424.08,101.94 424.72,101.1 425.29,100.22 425.79,99.31 426.22,98.37 426.57,97.4 426.84,96.42 427.04,95.42 427.16,94.41 427.2,93.4" fill="none" stroke="#F0A05A" stroke-width="0.9" stroke-linejoin="round"/>
<polyline points="399.7,93.4 399.66,92.82 399.52,92.24 399.3,91.69 399,91.17 398.62,90.69 398.17,90.26 397.66,89.88 397.1,89.57 396.5,89.33 395.86,89.15 395.21,89.04 394.54,89.01 393.88,89.04 393.23,89.14 392.6,89.3 392,89.51 391.44,89.77 390.93,90.06 390.46,90.38 390.05,90.72 389.69,91.06 389.39,91.4 389.14,91.73 388.94,92.04 388.79,92.31 388.68,92.55 388.6,92.74 388.55,92.88 388.52,92.97 388.5,93 388.48,92.97 388.44,92.88 388.39,92.72 388.31,92.52 388.2,92.26 388.03,91.97 387.82,91.64 387.56,91.28 387.23,90.91 386.85,90.54 386.41,90.18 385.91,89.83 385.36,89.52 384.76,89.24 384.12,89.02 383.44,88.85 382.74,88.74 382.03,88.7 381.32,88.74 380.62,88.85 379.94,89.04 379.29,89.3 378.69,89.63 378.14,90.03 377.66,90.5 377.25,91.01 376.93,91.57 376.69,92.16 376.55,92.77 376.5,93.4 376.55,94.03 376.69,94.64 376.93,95.23 377.25,95.79 377.66,96.3 378.14,96.77 378.69,97.17 379.29,97.5 379.94,97.76 380.62,97.95 381.32,98.06 382.03,98.1 382.74,98.06 383.44,97.95 384.12,97.78 384.76,97.56 385.36,97.28 385.91,96.97 386.41,96.62 386.85,96.26 387.23,95.89 387.56,95.52 387.82,95.16 388.03,94.83 388.2,94.54 388.31,94.28 388.39,94.08 388.44,93.92 388.48,93.83 388.5,93.8 388.52,93.83 388.55,93.92 388.6,94.06 388.68,94.25 388.79,94.49 388.94,94.76 389.14,95.07 389.39,95.4 389.69,95.74 390.05,96.08 390.46,96.42 390.93,96.74 391.44,97.03 392,97.29 392.6,97.5 393.23,97.66 393.88,97.76 394.54,97.79 395.21,97.76 395.86,97.65 396.5,97.47 397.1,97.23 397.66,96.92 398.17,96.54 398.62,96.11 399,95.63 399.3,95.11 399.52,94.56 399.66,93.98 399.7,93.4" fill="none" stroke="#45B552" stroke-width="1.0" stroke-linejoin="round" stroke-dasharray="1.6 0.9"/>
<path d="M357.6 73.5L359.9 75.8L357.6 78.1L355.3 75.8Z" fill="#EA8A2E"/>
<path d="M373.6 73.8L375.9 76.1L373.6 78.4L371.3 76.1Z" fill="#EA8A2E"/>
<path d="M349.4 84.6L351.7 86.9L349.4 89.2L347.1 86.9Z" fill="#EA8A2E"/>
<path d="M347.8 91.5L350.1 93.8L347.8 96.1L345.5 93.8Z" fill="#EA8A2E"/>
<path d="M355.6 103.5L357.9 105.8L355.6 108.1L353.3 105.8Z" fill="#EA8A2E"/>
<path d="M367.3 108.4L369.6 110.7L367.3 113L365 110.7Z" fill="#EA8A2E"/>
<path d="M383.6 99.8L385.9 102.1L383.6 104.4L381.3 102.1Z" fill="#EA8A2E"/>
<path d="M388.3 87L390.6 89.3L388.3 91.6L386 89.3Z" fill="#EA8A2E"/>
<path d="M402.6 74.6L404.9 76.9L402.6 79.2L400.3 76.9Z" fill="#EA8A2E"/>
<path d="M414.7 75.9L417 78.2L414.7 80.5L412.4 78.2Z" fill="#EA8A2E"/>
<path d="M424.8 84.6L427.1 86.9L424.8 89.2L422.5 86.9Z" fill="#EA8A2E"/>
<path d="M425.4 91.5L427.7 93.8L425.4 96.1L423.1 93.8Z" fill="#EA8A2E"/>
<path d="M419.25 96.95L421.55 99.25L419.25 101.55L416.95 99.25Z" fill="#EA8A2E"/>
<path d="M410.4 104.1L412.7 106.4L410.4 108.7L408.1 106.4Z" fill="#EA8A2E"/>
<path d="M404.9 105.4L407.2 107.7L404.9 110L402.6 107.7Z" fill="#EA8A2E"/>
<circle cx="381.1" cy="89.1" r="1.8" fill="#117E22"/>
<circle cx="385.2" cy="89.5" r="1.8" fill="#117E22"/>
<circle cx="377.1" cy="91.7" r="1.8" fill="#117E22"/>
<circle cx="377.5" cy="93.9" r="1.8" fill="#117E22"/>
<circle cx="379.3" cy="97.2" r="1.8" fill="#117E22"/>
<circle cx="383.3" cy="97.5" r="1.8" fill="#117E22"/>
<circle cx="388.1" cy="94.2" r="1.8" fill="#117E22"/>
<circle cx="391.4" cy="89.9" r="1.8" fill="#117E22"/>
<circle cx="395.7" cy="89.1" r="1.8" fill="#117E22"/>
<circle cx="398.3" cy="91.7" r="1.8" fill="#117E22"/>
<circle cx="398.7" cy="93.9" r="1.8" fill="#117E22"/>
<circle cx="396.5" cy="96.4" r="1.8" fill="#117E22"/>
<circle cx="392.8" cy="97.2" r="1.8" fill="#117E22"/>
<circle cx="388.5" cy="92.5" r="1.8" fill="#117E22"/>
<rect x="367.5" y="131.3" width="42" height="19.2" fill="#fff" opacity="0.82"/>
<path d="M372.3 133.7L374.5 135.9L372.3 138.1L370.1 135.9Z" fill="#EA8A2E"/>
<text x="378.2" y="138.9" font-size="8.0" fill="#333">2.27 eV</text>
<circle cx="372.3" cy="146" r="1.6" fill="#117E22"/>
<text x="378.2" y="149.2" font-size="8.0" fill="#333">2.34 eV</text>
<circle cx="388.5" cy="293.9" r="16.27" fill="none" stroke="#b4b8c0" stroke-width="0.9" stroke-dasharray="2.4 1.8"/>
<circle cx="388.5" cy="293.9" r="32.55" fill="none" stroke="#7a7a7a" stroke-width="1.0"/>
<circle cx="388.5" cy="293.9" r="48.82" fill="none" stroke="#b4b8c0" stroke-width="0.9" stroke-dasharray="2.4 1.8"/>
<line x1="388.5" y1="293.9" x2="453.6" y2="293.9" stroke="#727272" stroke-width="0.9"/>
<line x1="388.5" y1="293.9" x2="444.88" y2="261.35" stroke="#727272" stroke-width="0.9"/>
<line x1="388.5" y1="293.9" x2="421.05" y2="237.52" stroke="#727272" stroke-width="0.9"/>
<line x1="388.5" y1="293.9" x2="388.5" y2="228.8" stroke="#727272" stroke-width="0.9"/>
<line x1="388.5" y1="293.9" x2="355.95" y2="237.52" stroke="#727272" stroke-width="0.9"/>
<line x1="388.5" y1="293.9" x2="332.12" y2="261.35" stroke="#727272" stroke-width="0.9"/>
<line x1="388.5" y1="293.9" x2="323.4" y2="293.9" stroke="#727272" stroke-width="0.9"/>
<line x1="388.5" y1="293.9" x2="332.12" y2="326.45" stroke="#727272" stroke-width="0.9"/>
<line x1="388.5" y1="293.9" x2="355.95" y2="350.28" stroke="#727272" stroke-width="0.9"/>
<line x1="388.5" y1="293.9" x2="388.5" y2="359" stroke="#727272" stroke-width="0.9"/>
<line x1="388.5" y1="293.9" x2="421.05" y2="350.28" stroke="#727272" stroke-width="0.9"/>
<line x1="388.5" y1="293.9" x2="444.88" y2="326.45" stroke="#727272" stroke-width="0.9"/>
<circle cx="388.5" cy="293.9" r="65.1" fill="none" stroke="#111" stroke-width="1.2"/>
<line x1="451.38" y1="277.05" x2="449.26" y2="277.62" stroke="#111" stroke-width="0.9"/>
<line x1="434.53" y1="247.87" x2="432.98" y2="249.42" stroke="#111" stroke-width="0.9"/>
<line x1="405.35" y1="231.02" x2="404.78" y2="233.14" stroke="#111" stroke-width="0.9"/>
<line x1="371.65" y1="231.02" x2="372.22" y2="233.14" stroke="#111" stroke-width="0.9"/>
<line x1="342.47" y1="247.87" x2="344.02" y2="249.42" stroke="#111" stroke-width="0.9"/>
<line x1="325.62" y1="277.05" x2="327.74" y2="277.62" stroke="#111" stroke-width="0.9"/>
<line x1="325.62" y1="310.75" x2="327.74" y2="310.18" stroke="#111" stroke-width="0.9"/>
<line x1="342.47" y1="339.93" x2="344.02" y2="338.38" stroke="#111" stroke-width="0.9"/>
<line x1="371.65" y1="356.78" x2="372.22" y2="354.66" stroke="#111" stroke-width="0.9"/>
<line x1="405.35" y1="356.78" x2="404.78" y2="354.66" stroke="#111" stroke-width="0.9"/>
<line x1="434.53" y1="339.93" x2="432.98" y2="338.38" stroke="#111" stroke-width="0.9"/>
<line x1="451.38" y1="310.75" x2="449.26" y2="310.18" stroke="#111" stroke-width="0.9"/>
<text x="460.15" y="298.1" font-size="11.7" text-anchor="middle" fill="#1a1a1a">0</text>
<text x="455.65" y="259.2" font-size="11.7" text-anchor="middle" fill="#1a1a1a">30</text>
<text x="428.1" y="232.45" font-size="11.7" text-anchor="middle" fill="#1a1a1a">60</text>
<text x="388.5" y="223.7" font-size="11.7" text-anchor="middle" fill="#1a1a1a">90</text>
<text x="344.1" y="231.7" font-size="11.7" text-anchor="middle" fill="#1a1a1a">120</text>
<text x="320.7" y="257.3" font-size="11.7" text-anchor="middle" fill="#1a1a1a">150</text>
<text x="310" y="298.1" font-size="11.7" text-anchor="middle" fill="#1a1a1a">180</text>
<text x="319.2" y="337.4" font-size="11.7" text-anchor="middle" fill="#1a1a1a">210</text>
<text x="345.9" y="362.9" font-size="11.7" text-anchor="middle" fill="#1a1a1a">240</text>
<text x="389.3" y="373.3" font-size="11.7" text-anchor="middle" fill="#1a1a1a">270</text>
<text x="433.75" y="364" font-size="11.7" text-anchor="middle" fill="#1a1a1a">300</text>
<text x="457.5" y="338.8" font-size="11.7" text-anchor="middle" fill="#1a1a1a">330</text>
<line x1="295.1" y1="228.8" x2="295.1" y2="359" stroke="#111" stroke-width="1.1"/>
<line x1="292.5" y1="228.8" x2="295.1" y2="228.8" stroke="#111" stroke-width="0.9"/>
<line x1="293.6" y1="245.07" x2="295.1" y2="245.07" stroke="#111" stroke-width="0.9"/>
<line x1="292.5" y1="261.35" x2="295.1" y2="261.35" stroke="#111" stroke-width="0.9"/>
<line x1="293.6" y1="277.62" x2="295.1" y2="277.62" stroke="#111" stroke-width="0.9"/>
<line x1="292.5" y1="293.9" x2="295.1" y2="293.9" stroke="#111" stroke-width="0.9"/>
<line x1="293.6" y1="310.17" x2="295.1" y2="310.17" stroke="#111" stroke-width="0.9"/>
<line x1="292.5" y1="326.45" x2="295.1" y2="326.45" stroke="#111" stroke-width="0.9"/>
<line x1="293.6" y1="342.72" x2="295.1" y2="342.72" stroke="#111" stroke-width="0.9"/>
<line x1="292.5" y1="359" x2="295.1" y2="359" stroke="#111" stroke-width="0.9"/>
<text x="288.2" y="233.3" font-size="11.5" text-anchor="end" fill="#1a1a1a">0.6</text>
<text x="288.2" y="265.85" font-size="11.5" text-anchor="end" fill="#1a1a1a">0.3</text>
<text x="288.2" y="298.4" font-size="11.5" text-anchor="end" fill="#1a1a1a">0.0</text>
<text x="288.2" y="330.95" font-size="11.5" text-anchor="end" fill="#1a1a1a">0.3</text>
<text x="288.2" y="363.5" font-size="11.5" text-anchor="end" fill="#1a1a1a">0.6</text>
<text transform="translate(261.4 295.6) rotate(-90)" font-size="11.3" text-anchor="middle" fill="#1a1a1a"><tspan font-style="italic">C</tspan><tspan font-size="8.3" dy="2.5">abs</tspan><tspan dy="-2.5"> (nm</tspan><tspan font-size="8.6" dy="-4.6">2</tspan><tspan dy="4.6"> nm</tspan><tspan font-size="8.6" dy="-4.6">−1</tspan><tspan dy="4.6">)</tspan></text>
<text x="249.6" y="214.6" font-size="16" font-weight="bold" fill="#111">e</text>
<polyline points="446.1,293.9 446.06,292.39 445.94,290.89 445.74,289.4 445.46,287.91 445.11,286.45 444.68,285 444.17,283.58 443.59,282.19 442.94,280.83 442.22,279.51 441.44,278.22 440.59,276.97 439.69,275.77 438.73,274.62 437.71,273.52 436.65,272.46 435.54,271.46 434.39,270.52 433.2,269.63 431.97,268.8 430.72,268.03 429.44,267.31 428.14,266.65 426.83,266.05 425.49,265.51 424.15,265.03 422.81,264.6 421.46,264.23 420.11,263.91 418.76,263.64 417.43,263.42 416.1,263.24 414.79,263.12 413.5,263.03 412.22,262.98 410.97,262.97 409.74,263 408.53,263.05 407.35,263.14 406.2,263.24 405.08,263.37 403.98,263.52 402.92,263.68 401.88,263.85 400.87,264.03 399.9,264.21 398.95,264.4 398.03,264.58 397.13,264.76 396.26,264.94 395.41,265.11 394.59,265.26 393.78,265.4 392.99,265.53 392.22,265.64 391.46,265.73 390.71,265.8 389.97,265.86 389.23,265.89 388.5,265.9 387.77,265.89 387.03,265.86 386.29,265.8 385.54,265.73 384.78,265.64 384.01,265.53 383.22,265.4 382.41,265.26 381.59,265.11 380.74,264.94 379.87,264.76 378.97,264.58 378.05,264.4 377.1,264.21 376.13,264.03 375.12,263.85 374.08,263.68 373.02,263.52 371.92,263.37 370.8,263.24 369.65,263.14 368.47,263.05 367.26,263 366.03,262.97 364.78,262.98 363.5,263.03 362.21,263.12 360.9,263.24 359.57,263.42 358.24,263.64 356.89,263.91 355.54,264.23 354.19,264.6 352.85,265.03 351.51,265.51 350.17,266.05 348.86,266.65 347.56,267.31 346.28,268.03 345.03,268.8 343.8,269.63 342.61,270.52 341.46,271.46 340.35,272.46 339.29,273.52 338.27,274.62 337.31,275.77 336.41,276.97 335.56,278.22 334.78,279.51 334.06,280.83 333.41,282.19 332.83,283.58 332.32,285 331.89,286.45 331.54,287.91 331.26,289.4 331.06,290.89 330.94,292.39 330.9,293.9 330.94,295.41 331.06,296.91 331.26,298.4 331.54,299.89 331.89,301.35 332.32,302.8 332.83,304.22 333.41,305.61 334.06,306.97 334.78,308.29 335.56,309.58 336.41,310.83 337.31,312.03 338.27,313.18 339.29,314.28 340.35,315.34 341.46,316.34 342.61,317.28 343.8,318.17 345.03,319 346.28,319.77 347.56,320.49 348.86,321.15 350.17,321.75 351.51,322.29 352.85,322.77 354.19,323.2 355.54,323.57 356.89,323.89 358.24,324.16 359.57,324.38 360.9,324.56 362.21,324.68 363.5,324.77 364.78,324.82 366.03,324.83 367.26,324.8 368.47,324.75 369.65,324.66 370.8,324.56 371.92,324.43 373.02,324.28 374.08,324.12 375.12,323.95 376.13,323.77 377.1,323.59 378.05,323.4 378.97,323.22 379.87,323.04 380.74,322.86 381.59,322.69 382.41,322.54 383.22,322.4 384.01,322.27 384.78,322.16 385.54,322.07 386.29,322 387.03,321.94 387.77,321.91 388.5,321.9 389.23,321.91 389.97,321.94 390.71,322 391.46,322.07 392.22,322.16 392.99,322.27 393.78,322.4 394.59,322.54 395.41,322.69 396.26,322.86 397.13,323.04 398.03,323.22 398.95,323.4 399.9,323.59 400.87,323.77 401.88,323.95 402.92,324.12 403.98,324.28 405.08,324.43 406.2,324.56 407.35,324.66 408.53,324.75 409.74,324.8 410.97,324.83 412.22,324.82 413.5,324.77 414.79,324.68 416.1,324.56 417.43,324.38 418.76,324.16 420.11,323.89 421.46,323.57 422.81,323.2 424.15,322.77 425.49,322.29 426.83,321.75 428.14,321.15 429.44,320.49 430.72,319.77 431.97,319 433.2,318.17 434.39,317.28 435.54,316.34 436.65,315.34 437.71,314.28 438.73,313.18 439.69,312.03 440.59,310.83 441.44,309.58 442.22,308.29 442.94,306.97 443.59,305.61 444.17,304.22 444.68,302.8 445.11,301.35 445.46,299.89 445.74,298.4 445.94,296.91 446.06,295.41 446.1,293.9" fill="none" stroke="#F0A05A" stroke-width="0.9" stroke-linejoin="round"/>
<polyline points="429.3,293.9 429.27,292.83 429.17,291.77 429.02,290.71 428.8,289.66 428.52,288.63 428.19,287.61 427.79,286.62 427.34,285.64 426.83,284.7 426.27,283.78 425.66,282.89 425.01,282.04 424.3,281.22 423.56,280.44 422.77,279.7 421.95,279.01 421.09,278.35 420.21,277.74 419.29,277.18 418.36,276.66 417.4,276.19 416.42,275.77 415.44,275.39 414.44,275.06 413.43,274.77 412.42,274.53 411.41,274.33 410.4,274.18 409.4,274.07 408.41,273.99 407.42,273.96 406.45,273.96 405.5,274 404.56,274.07 403.64,274.16 402.75,274.29 401.88,274.44 401.03,274.61 400.21,274.79 399.41,275 398.64,275.22 397.9,275.44 397.19,275.68 396.51,275.92 395.85,276.16 395.22,276.4 394.62,276.63 394.04,276.86 393.48,277.08 392.95,277.29 392.44,277.49 391.95,277.67 391.48,277.83 391.02,277.98 390.58,278.11 390.15,278.21 389.73,278.29 389.31,278.35 388.91,278.39 388.5,278.4 388.09,278.39 387.69,278.35 387.27,278.29 386.85,278.21 386.42,278.11 385.98,277.98 385.52,277.83 385.05,277.67 384.56,277.49 384.05,277.29 383.52,277.08 382.96,276.86 382.38,276.63 381.78,276.4 381.15,276.16 380.49,275.92 379.81,275.68 379.1,275.44 378.36,275.22 377.59,275 376.79,274.79 375.97,274.61 375.12,274.44 374.25,274.29 373.36,274.16 372.44,274.07 371.5,274 370.55,273.96 369.58,273.96 368.59,273.99 367.6,274.07 366.6,274.18 365.59,274.33 364.58,274.53 363.57,274.77 362.56,275.06 361.56,275.39 360.58,275.77 359.6,276.19 358.64,276.66 357.71,277.18 356.79,277.74 355.91,278.35 355.05,279.01 354.23,279.7 353.44,280.44 352.7,281.22 351.99,282.04 351.34,282.89 350.73,283.78 350.17,284.7 349.66,285.64 349.21,286.62 348.81,287.61 348.48,288.63 348.2,289.66 347.98,290.71 347.83,291.77 347.73,292.83 347.7,293.9 347.73,294.97 347.83,296.03 347.98,297.09 348.2,298.14 348.48,299.17 348.81,300.19 349.21,301.18 349.66,302.16 350.17,303.1 350.73,304.02 351.34,304.91 351.99,305.76 352.7,306.58 353.44,307.36 354.23,308.1 355.05,308.79 355.91,309.45 356.79,310.06 357.71,310.62 358.64,311.14 359.6,311.61 360.58,312.03 361.56,312.41 362.56,312.74 363.57,313.03 364.58,313.27 365.59,313.47 366.6,313.62 367.6,313.73 368.59,313.81 369.58,313.84 370.55,313.84 371.5,313.8 372.44,313.73 373.36,313.64 374.25,313.51 375.12,313.36 375.97,313.19 376.79,313.01 377.59,312.8 378.36,312.58 379.1,312.36 379.81,312.12 380.49,311.88 381.15,311.64 381.78,311.4 382.38,311.17 382.96,310.94 383.52,310.72 384.05,310.51 384.56,310.31 385.05,310.13 385.52,309.97 385.98,309.82 386.42,309.69 386.85,309.59 387.27,309.51 387.69,309.45 388.09,309.41 388.5,309.4 388.91,309.41 389.31,309.45 389.73,309.51 390.15,309.59 390.58,309.69 391.02,309.82 391.48,309.97 391.95,310.13 392.44,310.31 392.95,310.51 393.48,310.72 394.04,310.94 394.62,311.17 395.22,311.4 395.85,311.64 396.51,311.88 397.19,312.12 397.9,312.36 398.64,312.58 399.41,312.8 400.21,313.01 401.03,313.19 401.88,313.36 402.75,313.51 403.64,313.64 404.56,313.73 405.5,313.8 406.45,313.84 407.42,313.84 408.41,313.81 409.4,313.73 410.4,313.62 411.41,313.47 412.42,313.27 413.43,313.03 414.44,312.74 415.44,312.41 416.42,312.03 417.4,311.61 418.36,311.14 419.29,310.62 420.21,310.06 421.09,309.45 421.95,308.79 422.77,308.1 423.56,307.36 424.3,306.58 425.01,305.76 425.66,304.91 426.27,304.02 426.83,303.1 427.34,302.16 427.79,301.18 428.19,300.19 428.52,299.17 428.8,298.14 429.02,297.09 429.17,296.03 429.27,294.97 429.3,293.9" fill="none" stroke="#45B552" stroke-width="1.0" stroke-linejoin="round"/>
<path d="M333.5 291.2L335.8 293.5L333.5 295.8L331.2 293.5Z" fill="#EA8A2E"/>
<path d="M340.75 273.95L343.05 276.25L340.75 278.55L338.45 276.25Z" fill="#EA8A2E"/>
<path d="M356.25 263.95L358.55 266.25L356.25 268.55L353.95 266.25Z" fill="#EA8A2E"/>
<path d="M373.75 265.8L376.05 268.1L373.75 270.4L371.45 268.1Z" fill="#EA8A2E"/>
<path d="M384.1 265.8L386.4 268.1L384.1 270.4L381.8 268.1Z" fill="#EA8A2E"/>
<path d="M392.4 271.7L394.7 274L392.4 276.3L390.1 274Z" fill="#EA8A2E"/>
<path d="M406.75 259.95L409.05 262.25L406.75 264.55L404.45 262.25Z" fill="#EA8A2E"/>
<path d="M424.25 261.2L426.55 263.5L424.25 265.8L421.95 263.5Z" fill="#EA8A2E"/>
<path d="M436.1 273.7L438.4 276L436.1 278.3L433.8 276Z" fill="#EA8A2E"/>
<path d="M442.75 281.45L445.05 283.75L442.75 286.05L440.45 283.75Z" fill="#EA8A2E"/>
<path d="M445.75 291.2L448.05 293.5L445.75 295.8L443.45 293.5Z" fill="#EA8A2E"/>
<path d="M443.6 300.8L445.9 303.1L443.6 305.4L441.3 303.1Z" fill="#EA8A2E"/>
<path d="M434.9 317.95L437.2 320.25L434.9 322.55L432.6 320.25Z" fill="#EA8A2E"/>
<path d="M417.4 325.8L419.7 328.1L417.4 330.4L415.1 328.1Z" fill="#EA8A2E"/>
<path d="M400.75 324.6L403.05 326.9L400.75 329.2L398.45 326.9Z" fill="#EA8A2E"/>
<path d="M389 320.45L391.3 322.75L389 325.05L386.7 322.75Z" fill="#EA8A2E"/>
<path d="M332 300.8L334.3 303.1L332 305.4L329.7 303.1Z" fill="#EA8A2E"/>
<path d="M338.5 309.6L340.8 311.9L338.5 314.2L336.2 311.9Z" fill="#EA8A2E"/>
<path d="M344.75 316.2L347.05 318.5L344.75 320.8L342.45 318.5Z" fill="#EA8A2E"/>
<path d="M361.25 323.95L363.55 326.25L361.25 328.55L358.95 326.25Z" fill="#EA8A2E"/>
<path d="M370.75 322.45L373.05 324.75L370.75 327.05L368.45 324.75Z" fill="#EA8A2E"/>
<path d="M379.5 316.45L381.8 318.75L379.5 321.05L377.2 318.75Z" fill="#EA8A2E"/>
<circle cx="347.5" cy="293.5" r="1.8" fill="#117E22"/>
<circle cx="348.5" cy="286.5" r="1.8" fill="#117E22"/>
<circle cx="358.25" cy="276" r="1.8" fill="#117E22"/>
<circle cx="371.6" cy="273.1" r="1.8" fill="#117E22"/>
<circle cx="382" cy="275.4" r="1.8" fill="#117E22"/>
<circle cx="388.5" cy="279.4" r="1.8" fill="#117E22"/>
<circle cx="394.25" cy="277.25" r="1.8" fill="#117E22"/>
<circle cx="404.25" cy="274.4" r="1.8" fill="#117E22"/>
<circle cx="417.4" cy="276.9" r="1.8" fill="#117E22"/>
<circle cx="425.5" cy="286.9" r="1.8" fill="#117E22"/>
<circle cx="427.75" cy="293.5" r="1.8" fill="#117E22"/>
<circle cx="423" cy="306" r="1.8" fill="#117E22"/>
<circle cx="412.75" cy="313.75" r="1.8" fill="#117E22"/>
<circle cx="400.5" cy="314.4" r="1.8" fill="#117E22"/>
<circle cx="391.75" cy="310" r="1.8" fill="#117E22"/>
<circle cx="353.75" cy="306.25" r="1.8" fill="#117E22"/>
<circle cx="365.75" cy="312.75" r="1.8" fill="#117E22"/>
<circle cx="377.25" cy="313.1" r="1.8" fill="#117E22"/>
<circle cx="385.75" cy="310.25" r="1.8" fill="#117E22"/>
<circle cx="388.5" cy="293.9" r="2.0" fill="#999"/>
<rect x="369.2" y="332.6" width="42" height="19.2" fill="#fff" opacity="0.82"/>
<path d="M374 335.1L376.2 337.3L374 339.5L371.8 337.3Z" fill="#EA8A2E"/>
<text x="380.8" y="340.4" font-size="8.0" fill="#333">2.25 eV</text>
<circle cx="374" cy="346.5" r="1.6" fill="#117E22"/>
<text x="380.8" y="350.3" font-size="8.0" fill="#333">2.34 eV</text>
<line x1="518.89" y1="147.5" x2="518.89" y2="149.3" stroke="#222" stroke-width="0.9"/>
<line x1="518.89" y1="15.3" x2="518.89" y2="17.1" stroke="#222" stroke-width="0.9"/>
<line x1="529.69" y1="147.5" x2="529.69" y2="149.3" stroke="#222" stroke-width="0.9"/>
<line x1="529.69" y1="15.3" x2="529.69" y2="17.1" stroke="#222" stroke-width="0.9"/>
<line x1="540.49" y1="147.5" x2="540.49" y2="149.3" stroke="#222" stroke-width="0.9"/>
<line x1="540.49" y1="15.3" x2="540.49" y2="17.1" stroke="#222" stroke-width="0.9"/>
<line x1="551.28" y1="147.5" x2="551.28" y2="149.3" stroke="#222" stroke-width="0.9"/>
<line x1="551.28" y1="15.3" x2="551.28" y2="17.1" stroke="#222" stroke-width="0.9"/>
<line x1="562.08" y1="147.5" x2="562.08" y2="150.5" stroke="#222" stroke-width="0.9"/>
<line x1="562.08" y1="15.3" x2="562.08" y2="18.3" stroke="#222" stroke-width="0.9"/>
<line x1="572.87" y1="147.5" x2="572.87" y2="149.3" stroke="#222" stroke-width="0.9"/>
<line x1="572.87" y1="15.3" x2="572.87" y2="17.1" stroke="#222" stroke-width="0.9"/>
<line x1="583.66" y1="147.5" x2="583.66" y2="149.3" stroke="#222" stroke-width="0.9"/>
<line x1="583.66" y1="15.3" x2="583.66" y2="17.1" stroke="#222" stroke-width="0.9"/>
<line x1="594.46" y1="147.5" x2="594.46" y2="149.3" stroke="#222" stroke-width="0.9"/>
<line x1="594.46" y1="15.3" x2="594.46" y2="17.1" stroke="#222" stroke-width="0.9"/>
<line x1="605.25" y1="147.5" x2="605.25" y2="149.3" stroke="#222" stroke-width="0.9"/>
<line x1="605.25" y1="15.3" x2="605.25" y2="17.1" stroke="#222" stroke-width="0.9"/>
<line x1="616.05" y1="147.5" x2="616.05" y2="150.5" stroke="#222" stroke-width="0.9"/>
<line x1="616.05" y1="15.3" x2="616.05" y2="18.3" stroke="#222" stroke-width="0.9"/>
<line x1="626.85" y1="147.5" x2="626.85" y2="149.3" stroke="#222" stroke-width="0.9"/>
<line x1="626.85" y1="15.3" x2="626.85" y2="17.1" stroke="#222" stroke-width="0.9"/>
<line x1="637.64" y1="147.5" x2="637.64" y2="149.3" stroke="#222" stroke-width="0.9"/>
<line x1="637.64" y1="15.3" x2="637.64" y2="17.1" stroke="#222" stroke-width="0.9"/>
<line x1="648.43" y1="147.5" x2="648.43" y2="149.3" stroke="#222" stroke-width="0.9"/>
<line x1="648.43" y1="15.3" x2="648.43" y2="17.1" stroke="#222" stroke-width="0.9"/>
<line x1="659.23" y1="147.5" x2="659.23" y2="149.3" stroke="#222" stroke-width="0.9"/>
<line x1="659.23" y1="15.3" x2="659.23" y2="17.1" stroke="#222" stroke-width="0.9"/>
<rect x="508.1" y="15.3" width="162" height="132.2" fill="none" stroke="#222" stroke-width="1.15"/>
<text x="508.6" y="164.8" font-size="11.3" text-anchor="middle" fill="#1a1a1a">1,500</text>
<text x="562.58" y="164.8" font-size="11.3" text-anchor="middle" fill="#1a1a1a">1,550</text>
<text x="616.55" y="164.8" font-size="11.3" text-anchor="middle" fill="#1a1a1a">1,600</text>
<text x="670.52" y="164.8" font-size="11.3" text-anchor="middle" fill="#1a1a1a">1,650</text>
<text x="590.2" y="180.7" font-size="12" text-anchor="middle" fill="#1a1a1a">Raman shift (cm<tspan font-size="8" dy="-4.5">−1</tspan><tspan dy="4.5">)</tspan></text>
<text x="499.7" y="80.2" font-size="11.9" text-anchor="middle" fill="#1a1a1a" transform="rotate(-90 499.7 80.2)">Intensity (a.u.)</text>
<text x="492.5" y="13.9" font-size="16" font-weight="bold" fill="#111">c</text>
<rect x="515.4" y="19.6" width="66.2" height="53.7" fill="white" stroke="#222" stroke-width="1.0"/>
<line x1="518.71" y1="73.3" x2="518.71" y2="74.5" stroke="#222" stroke-width="0.8"/>
<line x1="518.71" y1="19.6" x2="518.71" y2="20.8" stroke="#222" stroke-width="0.8"/>
<line x1="522.02" y1="73.3" x2="522.02" y2="74.5" stroke="#222" stroke-width="0.8"/>
<line x1="522.02" y1="19.6" x2="522.02" y2="20.8" stroke="#222" stroke-width="0.8"/>
<line x1="525.33" y1="73.3" x2="525.33" y2="74.5" stroke="#222" stroke-width="0.8"/>
<line x1="525.33" y1="19.6" x2="525.33" y2="20.8" stroke="#222" stroke-width="0.8"/>
<line x1="528.64" y1="73.3" x2="528.64" y2="74.5" stroke="#222" stroke-width="0.8"/>
<line x1="528.64" y1="19.6" x2="528.64" y2="20.8" stroke="#222" stroke-width="0.8"/>
<line x1="531.95" y1="73.3" x2="531.95" y2="75.3" stroke="#222" stroke-width="0.8"/>
<line x1="531.95" y1="19.6" x2="531.95" y2="21.6" stroke="#222" stroke-width="0.8"/>
<line x1="535.26" y1="73.3" x2="535.26" y2="74.5" stroke="#222" stroke-width="0.8"/>
<line x1="535.26" y1="19.6" x2="535.26" y2="20.8" stroke="#222" stroke-width="0.8"/>
<line x1="538.57" y1="73.3" x2="538.57" y2="74.5" stroke="#222" stroke-width="0.8"/>
<line x1="538.57" y1="19.6" x2="538.57" y2="20.8" stroke="#222" stroke-width="0.8"/>
<line x1="541.88" y1="73.3" x2="541.88" y2="74.5" stroke="#222" stroke-width="0.8"/>
<line x1="541.88" y1="19.6" x2="541.88" y2="20.8" stroke="#222" stroke-width="0.8"/>
<line x1="545.19" y1="73.3" x2="545.19" y2="74.5" stroke="#222" stroke-width="0.8"/>
<line x1="545.19" y1="19.6" x2="545.19" y2="20.8" stroke="#222" stroke-width="0.8"/>
<line x1="548.5" y1="73.3" x2="548.5" y2="75.3" stroke="#222" stroke-width="0.8"/>
<line x1="548.5" y1="19.6" x2="548.5" y2="21.6" stroke="#222" stroke-width="0.8"/>
<line x1="551.81" y1="73.3" x2="551.81" y2="74.5" stroke="#222" stroke-width="0.8"/>
<line x1="551.81" y1="19.6" x2="551.81" y2="20.8" stroke="#222" stroke-width="0.8"/>
<line x1="555.12" y1="73.3" x2="555.12" y2="74.5" stroke="#222" stroke-width="0.8"/>
<line x1="555.12" y1="19.6" x2="555.12" y2="20.8" stroke="#222" stroke-width="0.8"/>
<line x1="558.43" y1="73.3" x2="558.43" y2="74.5" stroke="#222" stroke-width="0.8"/>
<line x1="558.43" y1="19.6" x2="558.43" y2="20.8" stroke="#222" stroke-width="0.8"/>
<line x1="561.74" y1="73.3" x2="561.74" y2="74.5" stroke="#222" stroke-width="0.8"/>
<line x1="561.74" y1="19.6" x2="561.74" y2="20.8" stroke="#222" stroke-width="0.8"/>
<line x1="565.05" y1="73.3" x2="565.05" y2="75.3" stroke="#222" stroke-width="0.8"/>
<line x1="565.05" y1="19.6" x2="565.05" y2="21.6" stroke="#222" stroke-width="0.8"/>
<line x1="568.36" y1="73.3" x2="568.36" y2="74.5" stroke="#222" stroke-width="0.8"/>
<line x1="568.36" y1="19.6" x2="568.36" y2="20.8" stroke="#222" stroke-width="0.8"/>
<line x1="571.67" y1="73.3" x2="571.67" y2="74.5" stroke="#222" stroke-width="0.8"/>
<line x1="571.67" y1="19.6" x2="571.67" y2="20.8" stroke="#222" stroke-width="0.8"/>
<line x1="574.98" y1="73.3" x2="574.98" y2="74.5" stroke="#222" stroke-width="0.8"/>
<line x1="574.98" y1="19.6" x2="574.98" y2="20.8" stroke="#222" stroke-width="0.8"/>
<line x1="578.29" y1="73.3" x2="578.29" y2="74.5" stroke="#222" stroke-width="0.8"/>
<line x1="578.29" y1="19.6" x2="578.29" y2="20.8" stroke="#222" stroke-width="0.8"/>
<text transform="translate(518 79.6) rotate(-90)" font-size="10" text-anchor="end" fill="#1a1a1a">100</text>
<text transform="translate(534.5 79.6) rotate(-90)" font-size="10" text-anchor="end" fill="#1a1a1a">150</text>
<text transform="translate(552.2 79.6) rotate(-90)" font-size="10" text-anchor="end" fill="#1a1a1a">200</text>
<text transform="translate(569.1 79.6) rotate(-90)" font-size="10" text-anchor="end" fill="#1a1a1a">250</text>
<text transform="translate(586 79.6) rotate(-90)" font-size="10" text-anchor="end" fill="#1a1a1a">300</text>
<polyline points="508.1,141.11 508.44,141.11 508.77,141.1 509.11,141.09 509.45,141.08 509.79,141.08 510.12,141.07 510.46,141.06 510.8,141.06 511.14,141.05 511.47,141.04 511.81,141.03 512.15,141.03 512.49,141.02 512.82,141.01 513.16,141 513.5,141 513.83,140.99 514.17,140.98 514.51,140.97 514.85,140.97 515.18,140.96 515.52,140.95 515.86,140.94 516.2,140.94 516.53,140.93 516.87,140.92 517.21,140.91 517.55,140.91 517.88,140.9 518.22,140.89 518.56,140.88 518.89,140.88 519.23,140.87 519.57,140.86 519.91,140.85 520.24,140.84 520.58,140.84 520.92,140.83 521.26,140.82 521.59,140.81 521.93,140.81 522.27,140.8 522.61,140.79 522.94,140.78 523.28,140.77 523.62,140.76 523.96,140.76 524.29,140.75 524.63,140.74 524.97,140.73 525.3,140.72 525.64,140.72 525.98,140.71 526.32,140.7 526.65,140.69 526.99,140.68 527.33,140.67 527.67,140.66 528,140.66 528.34,140.65 528.68,140.64 529.02,140.63 529.35,140.62 529.69,140.61 530.03,140.6 530.36,140.59 530.7,140.59 531.04,140.58 531.38,140.57 531.71,140.56 532.05,140.55 532.39,140.54 532.73,140.53 533.06,140.52 533.4,140.51 533.74,140.5 534.08,140.49 534.41,140.48 534.75,140.47 535.09,140.46 535.42,140.45 535.76,140.44 536.1,140.43 536.44,140.42 536.77,140.41 537.11,140.4 537.45,140.39 537.79,140.38 538.12,140.37 538.46,140.36 538.8,140.35 539.14,140.34 539.47,140.33 539.81,140.32 540.15,140.31 540.49,140.3 540.82,140.29 541.16,140.28 541.5,140.27 541.83,140.25 542.17,140.24 542.51,140.23 542.85,140.22 543.18,140.21 543.52,140.2 543.86,140.18 544.2,140.17 544.53,140.16 544.87,140.15 545.21,140.13 545.55,140.12 545.88,140.11 546.22,140.1 546.56,140.08 546.89,140.07 547.23,140.06 547.57,140.04 547.91,140.03 548.24,140.02 548.58,140 548.92,139.99 549.26,139.97 549.59,139.96 549.93,139.94 550.27,139.93 550.61,139.91 550.94,139.9 551.28,139.88 551.62,139.87 551.95,139.85 552.29,139.83 552.63,139.82 552.97,139.8 553.3,139.78 553.64,139.77 553.98,139.75 554.32,139.73 554.65,139.71 554.99,139.69 555.33,139.67 555.67,139.66 556,139.64 556.34,139.62 556.68,139.6 557.01,139.58 557.35,139.55 557.69,139.53 558.03,139.51 558.36,139.49 558.7,139.47 559.04,139.44 559.38,139.42 559.71,139.39 560.05,139.37 560.39,139.35 560.73,139.32 561.06,139.29 561.4,139.27 561.74,139.24 562.08,139.21 562.41,139.18 562.75,139.15 563.09,139.12 563.42,139.09 563.76,139.06 564.1,139.03 564.44,138.99 564.77,138.96 565.11,138.92 565.45,138.89 565.79,138.85 566.12,138.81 566.46,138.77 566.8,138.73 567.14,138.69 567.47,138.65 567.81,138.6 568.15,138.56 568.48,138.51 568.82,138.46 569.16,138.41 569.5,138.36 569.83,138.31 570.17,138.25 570.51,138.19 570.85,138.14 571.18,138.08 571.52,138.01 571.86,137.95 572.2,137.88 572.53,137.81 572.87,137.74 573.21,137.67 573.54,137.59 573.88,137.51 574.22,137.43 574.56,137.35 574.89,137.26 575.23,137.17 575.57,137.07 575.91,136.97 576.24,136.86 576.58,136.75 576.92,136.63 577.26,136.51 577.59,136.38 577.93,136.24 578.27,136.09 578.6,135.93 578.94,135.76 579.28,135.57 579.62,135.37 579.95,135.16 580.29,134.92 580.63,134.67 580.97,134.39 581.3,134.09 581.64,133.75 581.98,133.39 582.32,132.98 582.65,132.53 582.99,132.04 583.33,131.49 583.66,130.9 584,130.25 584.34,129.56 584.68,128.83 585.01,128.08 585.35,127.33 585.69,126.62 586.03,125.98 586.36,125.47 586.7,125.11 587.04,124.95 587.38,124.97 587.71,125.18 588.05,125.54 588.39,126.01 588.73,126.55 589.06,127.12 589.4,127.68 589.74,128.21 590.07,128.69 590.41,129.12 590.75,129.49 591.09,129.8 591.42,130.05 591.76,130.25 592.1,130.39 592.44,130.48 592.77,130.52 593.11,130.51 593.45,130.46 593.79,130.37 594.12,130.23 594.46,130.06 594.8,129.84 595.13,129.58 595.47,129.27 595.81,128.92 596.15,128.52 596.48,128.07 596.82,127.57 597.16,127 597.5,126.37 597.83,125.67 598.17,124.89 598.51,124.02 598.85,123.06 599.18,121.99 599.52,120.8 599.86,119.47 600.19,117.98 600.53,116.32 600.87,114.46 601.21,112.37 601.54,110.03 601.88,107.39 602.22,104.41 602.56,101.05 602.89,97.27 603.23,93.01 603.57,88.21 603.91,82.85 604.24,76.89 604.58,70.34 604.92,63.25 605.25,55.73 605.59,48.02 605.93,40.43 606.27,33.43 606.6,27.54 606.94,23.32 607.28,21.22 607.62,21.47 607.95,24.05 608.29,28.67 608.63,34.85 608.97,42.03 609.3,49.7 609.64,57.43 609.98,64.9 610.32,71.92 610.65,78.38 610.99,84.25 611.33,89.53 611.66,94.24 612,98.43 612.34,102.16 612.68,105.47 613.01,108.41 613.35,111.03 613.69,113.36 614.03,115.44 614.36,117.3 614.7,118.97 615.04,120.47 615.38,121.82 615.71,123.05 616.05,124.15 616.39,125.16 616.72,126.08 617.06,126.91 617.4,127.68 617.74,128.38 618.07,129.02 618.41,129.61 618.75,130.16 619.09,130.66 619.42,131.13 619.76,131.56 620.1,131.97 620.44,132.34 620.77,132.69 621.11,133.01 621.45,133.32 621.78,133.6 622.12,133.87 622.46,134.12 622.8,134.35 623.13,134.57 623.47,134.78 623.81,134.97 624.15,135.16 624.48,135.33 624.82,135.5 625.16,135.66 625.5,135.8 625.83,135.94 626.17,136.08 626.51,136.2 626.85,136.33 627.18,136.44 627.52,136.55 627.86,136.65 628.19,136.75 628.53,136.85 628.87,136.94 629.21,137.02 629.54,137.11 629.88,137.19 630.22,137.26 630.56,137.34 630.89,137.4 631.23,137.47 631.57,137.54 631.91,137.6 632.24,137.66 632.58,137.71 632.92,137.77 633.25,137.82 633.59,137.87 633.93,137.92 634.27,137.97 634.6,138.01 634.94,138.06 635.28,138.1 635.62,138.14 635.95,138.18 636.29,138.22 636.63,138.26 636.97,138.29 637.3,138.33 637.64,138.36 637.98,138.39 638.31,138.42 638.65,138.45 638.99,138.48 639.33,138.51 639.66,138.54 640,138.57 640.34,138.59 640.68,138.62 641.01,138.64 641.35,138.67 641.69,138.69 642.03,138.71 642.36,138.73 642.7,138.76 643.04,138.78 643.37,138.8 643.71,138.82 644.05,138.84 644.39,138.85 644.72,138.87 645.06,138.89 645.4,138.91 645.74,138.92 646.07,138.94 646.41,138.96 646.75,138.97 647.09,138.99 647.42,139 647.76,139.02 648.1,139.03 648.43,139.04 648.77,139.06 649.11,139.07 649.45,139.08 649.78,139.1 650.12,139.11 650.46,139.12 650.8,139.13 651.13,139.14 651.47,139.15 651.81,139.16 652.15,139.18 652.48,139.19 652.82,139.2 653.16,139.21 653.5,139.22 653.83,139.22 654.17,139.23 654.51,139.24 654.84,139.25 655.18,139.26 655.52,139.27 655.86,139.28 656.19,139.29 656.53,139.29 656.87,139.3 657.21,139.31 657.54,139.32 657.88,139.33 658.22,139.33 658.56,139.34 658.89,139.35 659.23,139.35 659.57,139.36 659.9,139.37 660.24,139.37 660.58,139.38 660.92,139.39 661.25,139.39 661.59,139.4 661.93,139.4 662.27,139.41 662.6,139.42 662.94,139.42 663.28,139.43 663.62,139.43 663.95,139.44 664.29,139.44 664.63,139.45 664.96,139.45 665.3,139.46 665.64,139.46 665.98,139.47 666.31,139.47 666.65,139.48 666.99,139.48 667.33,139.49 667.66,139.49 668,139.5 668.34,139.5 668.68,139.5 669.01,139.51 669.35,139.51 669.69,139.52 670.02,139.52" fill="none" stroke="#4F9D5E" stroke-width="1.0" stroke-linejoin="round"/>
<text x="666.2" y="132.8" font-size="11.2" text-anchor="end" fill="#4E9A5C">2.33 eV</text>
<polyline points="515.4,64.56 515.57,64.33 515.73,64.53 515.9,64.35 516.06,64.37 516.23,64.91 516.39,64.99 516.56,64.27 516.72,64.82 516.89,64.86 517.05,64.2 517.22,64.69 517.39,64.37 517.55,64.7 517.72,64.56 517.88,65.01 518.05,64.57 518.21,64.36 518.38,64.66 518.54,64.45 518.71,64.5 518.88,65.02 519.04,64.37 519.21,64.49 519.37,64.71 519.54,64.92 519.7,64.12 519.87,64.42 520.03,64.13 520.2,63.92 520.37,63.99 520.53,63.72 520.7,64.1 520.86,63.63 521.03,63.84 521.19,63.28 521.36,63.19 521.52,63.74 521.69,63.55 521.85,63.3 522.02,62.43 522.19,62.69 522.35,62.29 522.52,62.33 522.68,61.86 522.85,61.67 523.01,61.37 523.18,60.8 523.34,60.4 523.51,59.68 523.67,59.4 523.84,58.65 524.01,58.14 524.17,57.38 524.34,56.97 524.5,56.66 524.67,55.19 524.83,54.16 525,53.18 525.16,52.35 525.33,50.98 525.5,50.06 525.66,48.01 525.83,46.61 525.99,45.1 526.16,43.4 526.32,40.66 526.49,38.41 526.65,37.03 526.82,34.17 526.99,32.35 527.15,30.55 527.32,28.61 527.48,26.7 527.65,25.54 527.81,25.72 527.98,25.17 528.14,26.19 528.31,26.6 528.47,28.4 528.64,29.7 528.81,31.65 528.97,34.27 529.14,36.08 529.3,38.95 529.47,41.34 529.63,42.96 529.8,45.45 529.96,47.14 530.13,48.65 530.29,50.03 530.46,51.88 530.63,53.29 530.79,53.75 530.96,55.34 531.12,55.76 531.29,56.72 531.45,58.02 531.62,58.7 531.78,59.34 531.95,59.86 532.12,60.49 532.28,61.05 532.45,61.49 532.61,61.65 532.78,62.46 532.94,62.92 533.11,63.01 533.27,63.78 533.44,64.03 533.61,63.7 533.77,64.38 533.94,64.61 534.1,65.32 534.27,65.18 534.43,65.23 534.6,65.92 534.76,65.57 534.93,65.72 535.09,66.4 535.26,66.03 535.43,66.32 535.59,66.26 535.76,66.68 535.92,66.48 536.09,66.57 536.25,67.32 536.42,67.39 536.58,66.93 536.75,66.76 536.91,67.49 537.08,67.39 537.25,67.35 537.41,67.67 537.58,67.71 537.74,67.82 537.91,67.84 538.07,67.7 538.24,68.02 538.4,68.01 538.57,67.71 538.74,68.44 538.9,68 539.07,67.9 539.23,68.34 539.4,68.46 539.56,67.98 539.73,68.53 539.89,68.62 540.06,68.44 540.23,68.24 540.39,68.81 540.56,68.65 540.72,68.68 540.89,68.26 541.05,68.65 541.22,68.3 541.38,68.95 541.55,68.83 541.71,68.58 541.88,68.39 542.05,68.81 542.21,69.04 542.38,69.16 542.54,68.81 542.71,69.14 542.87,68.61 543.04,68.61 543.2,69.22 543.37,69.15 543.53,68.7 543.7,68.87 543.87,68.74 544.03,69.17 544.2,69.38 544.36,69.26 544.53,68.82 544.69,69.31 544.86,69.26 545.02,69.21 545.19,69.22 545.36,69.25 545.52,68.8 545.69,69.51 545.85,69.66 546.02,68.83 546.18,68.9 546.35,68.81 546.51,69.32 546.68,68.87 546.85,68.9 547.01,69.55 547.18,69.09 547.34,69.02 547.51,69.19 547.67,69.33 547.84,69.55 548,69.51 548.17,69.62 548.33,69.78 548.5,69.32 548.67,69.6 548.83,69.14 549,69.84 549.16,69.07 549.33,69.27 549.49,69.07 549.66,69.1 549.82,69.11 549.99,69.41 550.15,69.92 550.32,69.27 550.49,69.8 550.65,69.69 550.82,69.37 550.98,69.5 551.15,69.61 551.31,69.14 551.48,69.44 551.64,69.69 551.81,69.78 551.98,69.24 552.14,69.59 552.31,69.32 552.47,69.71 552.64,69.86 552.8,69.56 552.97,69.31 553.13,69.9 553.3,69.35 553.47,69.24 553.63,69.34 553.8,69.33 553.96,70.07 554.13,69.52 554.29,69.31 554.46,70.05 554.62,69.86 554.79,69.86 554.95,69.63 555.12,69.73 555.29,69.69 555.45,69.42 555.62,70.12 555.78,70.08 555.95,70.02 556.11,70.03 556.28,70.08 556.44,69.27 556.61,69.38 556.77,70.08 556.94,69.71 557.11,69.88 557.27,69.88 557.44,69.85 557.6,69.59 557.77,69.65 557.93,69.85 558.1,70.01 558.26,69.89 558.43,70.08 558.6,69.69 558.76,69.55 558.93,69.86 559.09,70.13 559.26,70.04 559.42,69.87 559.59,69.67 559.75,69.51 559.92,69.87 560.09,69.5 560.25,69.66 560.42,69.83 560.58,69.89 560.75,69.78 560.91,69.6 561.08,69.86 561.24,69.61 561.41,69.82 561.57,70.02 561.74,69.76 561.91,69.62 562.07,70.18 562.24,69.87 562.4,69.87 562.57,69.46 562.73,69.41 562.9,69.92 563.06,69.45 563.23,69.55 563.39,70.03 563.56,69.85 563.73,70.16 563.89,69.54 564.06,69.68 564.22,69.48 564.39,69.56 564.55,69.68 564.72,69.62 564.88,69.77 565.05,70.19 565.22,69.76 565.38,70.28 565.55,70.16 565.71,69.59 565.88,70.25 566.04,70.21 566.21,70.21 566.37,69.5 566.54,70.14 566.71,70.28 566.87,69.54 567.04,70.19 567.2,69.54 567.37,69.7 567.53,69.55 567.7,69.45 567.86,69.79 568.03,69.59 568.19,70.28 568.36,69.62 568.53,69.85 568.69,69.67 568.86,70.22 569.02,69.64 569.19,69.48 569.35,70.27 569.52,70.03 569.68,69.82 569.85,69.58 570.01,70.11 570.18,70.16 570.35,70.1 570.51,69.77 570.68,69.65 570.84,69.98 571.01,70 571.17,69.98 571.34,70.02 571.5,69.96 571.67,70.26 571.84,69.89 572,69.46 572.17,69.97 572.33,69.67 572.5,70.2 572.66,69.72 572.83,69.66 572.99,69.74 573.16,69.88 573.33,69.91 573.49,69.77 573.66,69.54 573.82,70.21 573.99,70.26 574.15,69.68 574.32,69.53 574.48,69.89 574.65,69.95 574.81,69.71 574.98,70.19 575.15,70.11 575.31,70.18 575.48,69.83 575.64,70.07 575.81,70.15 575.97,69.74 576.14,69.5 576.3,70.09 576.47,69.73 576.63,69.99 576.8,69.59 576.97,69.84 577.13,70.12 577.3,70.17 577.46,70.34 577.63,69.93 577.79,70.02 577.96,70.21 578.12,70.04 578.29,70.08 578.46,69.67 578.62,70.24 578.79,69.48 578.95,69.94 579.12,69.83 579.28,69.95 579.45,69.62 579.61,69.63 579.78,69.87 579.95,69.94 580.11,69.73 580.28,69.6 580.44,70.01 580.61,69.72 580.77,69.51 580.94,69.96 581.1,70.17 581.27,70.17 581.43,69.73 581.6,69.77" fill="none" stroke="#3F8F4E" stroke-width="1.25" stroke-linejoin="round"/>
<line x1="518.89" y1="343.5" x2="518.89" y2="345.3" stroke="#222" stroke-width="0.9"/>
<line x1="518.89" y1="211.3" x2="518.89" y2="213.1" stroke="#222" stroke-width="0.9"/>
<line x1="529.69" y1="343.5" x2="529.69" y2="345.3" stroke="#222" stroke-width="0.9"/>
<line x1="529.69" y1="211.3" x2="529.69" y2="213.1" stroke="#222" stroke-width="0.9"/>
<line x1="540.49" y1="343.5" x2="540.49" y2="345.3" stroke="#222" stroke-width="0.9"/>
<line x1="540.49" y1="211.3" x2="540.49" y2="213.1" stroke="#222" stroke-width="0.9"/>
<line x1="551.28" y1="343.5" x2="551.28" y2="345.3" stroke="#222" stroke-width="0.9"/>
<line x1="551.28" y1="211.3" x2="551.28" y2="213.1" stroke="#222" stroke-width="0.9"/>
<line x1="562.08" y1="343.5" x2="562.08" y2="346.5" stroke="#222" stroke-width="0.9"/>
<line x1="562.08" y1="211.3" x2="562.08" y2="214.3" stroke="#222" stroke-width="0.9"/>
<line x1="572.87" y1="343.5" x2="572.87" y2="345.3" stroke="#222" stroke-width="0.9"/>
<line x1="572.87" y1="211.3" x2="572.87" y2="213.1" stroke="#222" stroke-width="0.9"/>
<line x1="583.66" y1="343.5" x2="583.66" y2="345.3" stroke="#222" stroke-width="0.9"/>
<line x1="583.66" y1="211.3" x2="583.66" y2="213.1" stroke="#222" stroke-width="0.9"/>
<line x1="594.46" y1="343.5" x2="594.46" y2="345.3" stroke="#222" stroke-width="0.9"/>
<line x1="594.46" y1="211.3" x2="594.46" y2="213.1" stroke="#222" stroke-width="0.9"/>
<line x1="605.25" y1="343.5" x2="605.25" y2="345.3" stroke="#222" stroke-width="0.9"/>
<line x1="605.25" y1="211.3" x2="605.25" y2="213.1" stroke="#222" stroke-width="0.9"/>
<line x1="616.05" y1="343.5" x2="616.05" y2="346.5" stroke="#222" stroke-width="0.9"/>
<line x1="616.05" y1="211.3" x2="616.05" y2="214.3" stroke="#222" stroke-width="0.9"/>
<line x1="626.85" y1="343.5" x2="626.85" y2="345.3" stroke="#222" stroke-width="0.9"/>
<line x1="626.85" y1="211.3" x2="626.85" y2="213.1" stroke="#222" stroke-width="0.9"/>
<line x1="637.64" y1="343.5" x2="637.64" y2="345.3" stroke="#222" stroke-width="0.9"/>
<line x1="637.64" y1="211.3" x2="637.64" y2="213.1" stroke="#222" stroke-width="0.9"/>
<line x1="648.43" y1="343.5" x2="648.43" y2="345.3" stroke="#222" stroke-width="0.9"/>
<line x1="648.43" y1="211.3" x2="648.43" y2="213.1" stroke="#222" stroke-width="0.9"/>
<line x1="659.23" y1="343.5" x2="659.23" y2="345.3" stroke="#222" stroke-width="0.9"/>
<line x1="659.23" y1="211.3" x2="659.23" y2="213.1" stroke="#222" stroke-width="0.9"/>
<rect x="508.1" y="211.3" width="162" height="132.2" fill="none" stroke="#222" stroke-width="1.15"/>
<text x="508.6" y="361.9" font-size="11.3" text-anchor="middle" fill="#1a1a1a">1,500</text>
<text x="562.58" y="361.9" font-size="11.3" text-anchor="middle" fill="#1a1a1a">1,550</text>
<text x="616.55" y="361.9" font-size="11.3" text-anchor="middle" fill="#1a1a1a">1,600</text>
<text x="670.52" y="361.9" font-size="11.3" text-anchor="middle" fill="#1a1a1a">1,650</text>
<text x="590.2" y="380.7" font-size="12" text-anchor="middle" fill="#1a1a1a">Raman shift (cm<tspan font-size="8" dy="-4.5">−1</tspan><tspan dy="4.5">)</tspan></text>
<text x="499.7" y="276.2" font-size="11.9" text-anchor="middle" fill="#1a1a1a" transform="rotate(-90 499.7 276.2)">Intensity (a.u.)</text>
<text x="495.2" y="214.7" font-size="16" font-weight="bold" fill="#111">f</text>
<rect x="515.4" y="215.6" width="66.2" height="53.7" fill="white" stroke="#222" stroke-width="1.0"/>
<line x1="518.71" y1="269.3" x2="518.71" y2="270.5" stroke="#222" stroke-width="0.8"/>
<line x1="518.71" y1="215.6" x2="518.71" y2="216.8" stroke="#222" stroke-width="0.8"/>
<line x1="522.02" y1="269.3" x2="522.02" y2="270.5" stroke="#222" stroke-width="0.8"/>
<line x1="522.02" y1="215.6" x2="522.02" y2="216.8" stroke="#222" stroke-width="0.8"/>
<line x1="525.33" y1="269.3" x2="525.33" y2="270.5" stroke="#222" stroke-width="0.8"/>
<line x1="525.33" y1="215.6" x2="525.33" y2="216.8" stroke="#222" stroke-width="0.8"/>
<line x1="528.64" y1="269.3" x2="528.64" y2="270.5" stroke="#222" stroke-width="0.8"/>
<line x1="528.64" y1="215.6" x2="528.64" y2="216.8" stroke="#222" stroke-width="0.8"/>
<line x1="531.95" y1="269.3" x2="531.95" y2="271.3" stroke="#222" stroke-width="0.8"/>
<line x1="531.95" y1="215.6" x2="531.95" y2="217.6" stroke="#222" stroke-width="0.8"/>
<line x1="535.26" y1="269.3" x2="535.26" y2="270.5" stroke="#222" stroke-width="0.8"/>
<line x1="535.26" y1="215.6" x2="535.26" y2="216.8" stroke="#222" stroke-width="0.8"/>
<line x1="538.57" y1="269.3" x2="538.57" y2="270.5" stroke="#222" stroke-width="0.8"/>
<line x1="538.57" y1="215.6" x2="538.57" y2="216.8" stroke="#222" stroke-width="0.8"/>
<line x1="541.88" y1="269.3" x2="541.88" y2="270.5" stroke="#222" stroke-width="0.8"/>
<line x1="541.88" y1="215.6" x2="541.88" y2="216.8" stroke="#222" stroke-width="0.8"/>
<line x1="545.19" y1="269.3" x2="545.19" y2="270.5" stroke="#222" stroke-width="0.8"/>
<line x1="545.19" y1="215.6" x2="545.19" y2="216.8" stroke="#222" stroke-width="0.8"/>
<line x1="548.5" y1="269.3" x2="548.5" y2="271.3" stroke="#222" stroke-width="0.8"/>
<line x1="548.5" y1="215.6" x2="548.5" y2="217.6" stroke="#222" stroke-width="0.8"/>
<line x1="551.81" y1="269.3" x2="551.81" y2="270.5" stroke="#222" stroke-width="0.8"/>
<line x1="551.81" y1="215.6" x2="551.81" y2="216.8" stroke="#222" stroke-width="0.8"/>
<line x1="555.12" y1="269.3" x2="555.12" y2="270.5" stroke="#222" stroke-width="0.8"/>
<line x1="555.12" y1="215.6" x2="555.12" y2="216.8" stroke="#222" stroke-width="0.8"/>
<line x1="558.43" y1="269.3" x2="558.43" y2="270.5" stroke="#222" stroke-width="0.8"/>
<line x1="558.43" y1="215.6" x2="558.43" y2="216.8" stroke="#222" stroke-width="0.8"/>
<line x1="561.74" y1="269.3" x2="561.74" y2="270.5" stroke="#222" stroke-width="0.8"/>
<line x1="561.74" y1="215.6" x2="561.74" y2="216.8" stroke="#222" stroke-width="0.8"/>
<line x1="565.05" y1="269.3" x2="565.05" y2="271.3" stroke="#222" stroke-width="0.8"/>
<line x1="565.05" y1="215.6" x2="565.05" y2="217.6" stroke="#222" stroke-width="0.8"/>
<line x1="568.36" y1="269.3" x2="568.36" y2="270.5" stroke="#222" stroke-width="0.8"/>
<line x1="568.36" y1="215.6" x2="568.36" y2="216.8" stroke="#222" stroke-width="0.8"/>
<line x1="571.67" y1="269.3" x2="571.67" y2="270.5" stroke="#222" stroke-width="0.8"/>
<line x1="571.67" y1="215.6" x2="571.67" y2="216.8" stroke="#222" stroke-width="0.8"/>
<line x1="574.98" y1="269.3" x2="574.98" y2="270.5" stroke="#222" stroke-width="0.8"/>
<line x1="574.98" y1="215.6" x2="574.98" y2="216.8" stroke="#222" stroke-width="0.8"/>
<line x1="578.29" y1="269.3" x2="578.29" y2="270.5" stroke="#222" stroke-width="0.8"/>
<line x1="578.29" y1="215.6" x2="578.29" y2="216.8" stroke="#222" stroke-width="0.8"/>
<text transform="translate(518 276.7) rotate(-90)" font-size="10" text-anchor="end" fill="#1a1a1a">100</text>
<text transform="translate(534.5 276.7) rotate(-90)" font-size="10" text-anchor="end" fill="#1a1a1a">150</text>
<text transform="translate(552.2 276.7) rotate(-90)" font-size="10" text-anchor="end" fill="#1a1a1a">200</text>
<text transform="translate(569.1 276.7) rotate(-90)" font-size="10" text-anchor="end" fill="#1a1a1a">250</text>
<text transform="translate(586 276.7) rotate(-90)" font-size="10" text-anchor="end" fill="#1a1a1a">300</text>
<polyline points="508.1,308.87 508.44,308.87 508.78,308.87 509.11,308.86 509.45,308.86 509.79,308.85 510.12,308.85 510.46,308.84 510.8,308.84 511.14,308.83 511.48,308.83 511.81,308.82 512.15,308.82 512.49,308.81 512.83,308.81 513.16,308.8 513.5,308.8 513.84,308.79 514.18,308.79 514.51,308.78 514.85,308.78 515.19,308.77 515.52,308.77 515.86,308.76 516.2,308.76 516.54,308.75 516.88,308.74 517.21,308.74 517.55,308.73 517.89,308.73 518.23,308.72 518.56,308.71 518.9,308.71 519.24,308.7 519.58,308.7 519.91,308.69 520.25,308.68 520.59,308.68 520.93,308.67 521.26,308.66 521.6,308.66 521.94,308.65 522.27,308.64 522.61,308.64 522.95,308.63 523.29,308.62 523.62,308.62 523.96,308.61 524.3,308.6 524.64,308.59 524.98,308.59 525.31,308.58 525.65,308.57 525.99,308.56 526.33,308.56 526.66,308.55 527,308.54 527.34,308.53 527.68,308.52 528.01,308.52 528.35,308.51 528.69,308.5 529.02,308.49 529.36,308.48 529.7,308.47 530.04,308.46 530.38,308.45 530.71,308.45 531.05,308.44 531.39,308.43 531.73,308.42 532.06,308.41 532.4,308.4 532.74,308.39 533.08,308.38 533.41,308.37 533.75,308.36 534.09,308.35 534.43,308.34 534.76,308.33 535.1,308.32 535.44,308.31 535.77,308.29 536.11,308.28 536.45,308.27 536.79,308.26 537.12,308.25 537.46,308.24 537.8,308.22 538.14,308.21 538.48,308.2 538.81,308.19 539.15,308.18 539.49,308.16 539.83,308.15 540.16,308.14 540.5,308.12 540.84,308.11 541.18,308.1 541.51,308.08 541.85,308.07 542.19,308.05 542.52,308.04 542.86,308.02 543.2,308.01 543.54,307.99 543.88,307.98 544.21,307.96 544.55,307.95 544.89,307.93 545.23,307.92 545.56,307.9 545.9,307.88 546.24,307.87 546.58,307.85 546.91,307.83 547.25,307.81 547.59,307.8 547.93,307.78 548.26,307.76 548.6,307.74 548.94,307.72 549.27,307.7 549.61,307.68 549.95,307.66 550.29,307.64 550.62,307.62 550.96,307.6 551.3,307.58 551.64,307.56 551.98,307.53 552.31,307.51 552.65,307.49 552.99,307.46 553.33,307.44 553.66,307.42 554,307.39 554.34,307.37 554.68,307.34 555.01,307.32 555.35,307.29 555.69,307.26 556.02,307.24 556.36,307.21 556.7,307.18 557.04,307.15 557.38,307.12 557.71,307.09 558.05,307.06 558.39,307.03 558.73,307 559.06,306.97 559.4,306.93 559.74,306.9 560.08,306.86 560.41,306.83 560.75,306.79 561.09,306.76 561.43,306.72 561.76,306.68 562.1,306.64 562.44,306.6 562.77,306.56 563.11,306.52 563.45,306.47 563.79,306.43 564.12,306.38 564.46,306.33 564.8,306.29 565.14,306.24 565.48,306.19 565.81,306.13 566.15,306.08 566.49,306.03 566.83,305.97 567.16,305.91 567.5,305.85 567.84,305.79 568.18,305.73 568.51,305.66 568.85,305.59 569.19,305.52 569.52,305.45 569.86,305.38 570.2,305.3 570.54,305.22 570.88,305.13 571.21,305.05 571.55,304.96 571.89,304.87 572.23,304.77 572.56,304.67 572.9,304.57 573.24,304.46 573.58,304.35 573.91,304.23 574.25,304.11 574.59,303.98 574.93,303.85 575.26,303.71 575.6,303.56 575.94,303.41 576.27,303.25 576.61,303.08 576.95,302.91 577.29,302.72 577.62,302.53 577.96,302.33 578.3,302.12 578.64,301.89 578.98,301.66 579.31,301.41 579.65,301.15 579.99,300.88 580.33,300.6 580.66,300.3 581,299.99 581.34,299.66 581.68,299.32 582.01,298.96 582.35,298.59 582.69,298.2 583.02,297.81 583.36,297.4 583.7,296.98 584.04,296.55 584.38,296.12 584.71,295.68 585.05,295.25 585.39,294.82 585.73,294.4 586.06,294 586.4,293.61 586.74,293.24 587.08,292.9 587.41,292.59 587.75,292.3 588.09,292.05 588.43,291.82 588.76,291.62 589.1,291.44 589.44,291.28 589.77,291.13 590.11,290.98 590.45,290.83 590.79,290.67 591.12,290.5 591.46,290.29 591.8,290.05 592.14,289.76 592.48,289.42 592.81,289.03 593.15,288.56 593.49,288.01 593.83,287.38 594.16,286.66 594.5,285.83 594.84,284.9 595.18,283.85 595.51,282.7 595.85,281.44 596.19,280.08 596.52,278.66 596.86,277.19 597.2,275.73 597.54,274.34 597.88,273.08 598.21,272.03 598.55,271.25 598.89,270.78 599.23,270.64 599.56,270.81 599.9,271.24 600.24,271.88 600.58,272.65 600.91,273.48 601.25,274.31 601.59,275.09 601.93,275.77 602.26,276.34 602.6,276.77 602.94,277.07 603.27,277.21 603.61,277.21 603.95,277.06 604.29,276.76 604.62,276.32 604.96,275.74 605.3,275.01 605.64,274.14 605.98,273.13 606.31,271.97 606.65,270.66 606.99,269.2 607.33,267.58 607.66,265.8 608,263.86 608.34,261.76 608.68,259.5 609.01,257.07 609.35,254.48 609.69,251.74 610.02,248.86 610.36,245.87 610.7,242.78 611.04,239.63 611.38,236.46 611.71,233.33 612.05,230.3 612.39,227.43 612.73,224.81 613.06,222.51 613.4,220.61 613.74,219.17 614.08,218.25 614.41,217.89 614.75,218.11 615.09,218.9 615.43,220.23 615.76,222.05 616.1,224.32 616.44,226.94 616.77,229.86 617.11,232.98 617.45,236.24 617.79,239.58 618.12,242.93 618.46,246.25 618.8,249.5 619.14,252.66 619.48,255.7 619.81,258.6 620.15,261.36 620.49,263.98 620.83,266.45 621.16,268.78 621.5,270.96 621.84,273.01 622.18,274.93 622.51,276.73 622.85,278.41 623.19,279.98 623.52,281.45 623.86,282.83 624.2,284.12 624.54,285.32 624.88,286.45 625.21,287.51 625.55,288.5 625.89,289.43 626.23,290.3 626.56,291.12 626.9,291.89 627.24,292.62 627.58,293.31 627.91,293.95 628.25,294.56 628.59,295.13 628.93,295.68 629.26,296.19 629.6,296.68 629.94,297.14 630.27,297.57 630.61,297.99 630.95,298.38 631.29,298.75 631.62,299.11 631.96,299.44 632.3,299.77 632.64,300.07 632.98,300.37 633.31,300.64 633.65,300.91 633.99,301.16 634.33,301.41 634.66,301.64 635,301.86 635.34,302.08 635.68,302.28 636.01,302.48 636.35,302.66 636.69,302.84 637.03,303.02 637.36,303.18 637.7,303.34 638.04,303.5 638.38,303.65 638.71,303.79 639.05,303.93 639.39,304.06 639.73,304.19 640.06,304.31 640.4,304.43 640.74,304.54 641.08,304.65 641.41,304.76 641.75,304.86 642.09,304.96 642.42,305.06 642.76,305.15 643.1,305.24 643.44,305.33 643.78,305.42 644.11,305.5 644.45,305.58 644.79,305.66 645.12,305.73 645.46,305.8 645.8,305.87 646.14,305.94 646.48,306.01 646.81,306.07 647.15,306.14 647.49,306.2 647.83,306.26 648.16,306.31 648.5,306.37 648.84,306.43 649.17,306.48 649.51,306.53 649.85,306.58 650.19,306.63 650.53,306.68 650.86,306.72 651.2,306.77 651.54,306.81 651.88,306.86 652.21,306.9 652.55,306.94 652.89,306.98 653.23,307.02 653.56,307.06 653.9,307.1 654.24,307.13 654.58,307.17 654.91,307.2 655.25,307.24 655.59,307.27 655.92,307.3 656.26,307.33 656.6,307.36 656.94,307.39 657.28,307.42 657.61,307.45 657.95,307.48 658.29,307.51 658.62,307.54 658.96,307.56 659.3,307.59 659.64,307.62 659.98,307.64 660.31,307.66 660.65,307.69 660.99,307.71 661.33,307.74 661.66,307.76 662,307.78 662.34,307.8 662.67,307.82 663.01,307.84 663.35,307.86 663.69,307.88 664.03,307.9 664.36,307.92 664.7,307.94 665.04,307.96 665.38,307.98 665.71,308 666.05,308.02 666.39,308.03 666.73,308.05 667.06,308.07 667.4,308.08 667.74,308.1 668.08,308.11 668.41,308.13 668.75,308.15 669.09,308.16 669.42,308.18 669.76,308.19 670.1,308.2" fill="none" stroke="#EE8038" stroke-width="1.0" stroke-linejoin="round"/>
<polyline points="508.1,336.09 508.44,336.08 508.78,336.07 509.11,336.06 509.45,336.06 509.79,336.05 510.12,336.04 510.46,336.03 510.8,336.02 511.14,336.01 511.48,336 511.81,335.99 512.15,335.98 512.49,335.97 512.83,335.95 513.16,335.94 513.5,335.93 513.84,335.92 514.18,335.91 514.51,335.9 514.85,335.89 515.19,335.88 515.52,335.87 515.86,335.86 516.2,335.84 516.54,335.83 516.88,335.82 517.21,335.81 517.55,335.8 517.89,335.78 518.23,335.77 518.56,335.76 518.9,335.75 519.24,335.73 519.58,335.72 519.91,335.71 520.25,335.69 520.59,335.68 520.93,335.67 521.26,335.65 521.6,335.64 521.94,335.63 522.27,335.61 522.61,335.6 522.95,335.58 523.29,335.57 523.62,335.56 523.96,335.54 524.3,335.53 524.64,335.51 524.98,335.5 525.31,335.48 525.65,335.46 525.99,335.45 526.33,335.43 526.66,335.42 527,335.4 527.34,335.38 527.68,335.37 528.01,335.35 528.35,335.33 528.69,335.32 529.02,335.3 529.36,335.28 529.7,335.27 530.04,335.25 530.38,335.23 530.71,335.21 531.05,335.19 531.39,335.17 531.73,335.16 532.06,335.14 532.4,335.12 532.74,335.1 533.08,335.08 533.41,335.06 533.75,335.04 534.09,335.02 534.43,335 534.76,334.98 535.1,334.96 535.44,334.93 535.77,334.91 536.11,334.89 536.45,334.87 536.79,334.85 537.12,334.83 537.46,334.8 537.8,334.78 538.14,334.76 538.48,334.73 538.81,334.71 539.15,334.69 539.49,334.66 539.83,334.64 540.16,334.61 540.5,334.59 540.84,334.56 541.18,334.54 541.51,334.51 541.85,334.49 542.19,334.46 542.52,334.43 542.86,334.41 543.2,334.38 543.54,334.35 543.88,334.33 544.21,334.3 544.55,334.27 544.89,334.24 545.23,334.21 545.56,334.18 545.9,334.15 546.24,334.12 546.58,334.1 546.91,334.06 547.25,334.03 547.59,334 547.93,333.97 548.26,333.94 548.6,333.91 548.94,333.88 549.27,333.84 549.61,333.81 549.95,333.78 550.29,333.74 550.62,333.71 550.96,333.68 551.3,333.64 551.64,333.61 551.98,333.57 552.31,333.54 552.65,333.5 552.99,333.46 553.33,333.43 553.66,333.39 554,333.35 554.34,333.32 554.68,333.28 555.01,333.24 555.35,333.2 555.69,333.16 556.02,333.12 556.36,333.08 556.7,333.04 557.04,333 557.38,332.96 557.71,332.92 558.05,332.88 558.39,332.83 558.73,332.79 559.06,332.75 559.4,332.7 559.74,332.66 560.08,332.61 560.41,332.57 560.75,332.52 561.09,332.48 561.43,332.43 561.76,332.38 562.1,332.33 562.44,332.28 562.77,332.23 563.11,332.18 563.45,332.13 563.79,332.08 564.12,332.03 564.46,331.98 564.8,331.93 565.14,331.87 565.48,331.82 565.81,331.76 566.15,331.71 566.49,331.65 566.83,331.59 567.16,331.53 567.5,331.47 567.84,331.41 568.18,331.35 568.51,331.28 568.85,331.22 569.19,331.15 569.52,331.09 569.86,331.02 570.2,330.95 570.54,330.87 570.88,330.8 571.21,330.72 571.55,330.65 571.89,330.57 572.23,330.49 572.56,330.4 572.9,330.31 573.24,330.22 573.58,330.13 573.91,330.04 574.25,329.94 574.59,329.83 574.93,329.73 575.26,329.61 575.6,329.5 575.94,329.38 576.27,329.25 576.61,329.12 576.95,328.98 577.29,328.84 577.62,328.68 577.96,328.52 578.3,328.35 578.64,328.17 578.98,327.98 579.31,327.78 579.65,327.57 579.99,327.34 580.33,327.1 580.66,326.85 581,326.57 581.34,326.28 581.68,325.97 582.01,325.64 582.35,325.28 582.69,324.9 583.02,324.5 583.36,324.07 583.7,323.62 584.04,323.15 584.38,322.65 584.71,322.13 585.05,321.6 585.39,321.06 585.73,320.52 586.06,319.99 586.4,319.48 586.74,319.01 587.08,318.58 587.41,318.2 587.75,317.89 588.09,317.64 588.43,317.47 588.76,317.35 589.1,317.29 589.44,317.27 589.77,317.28 590.11,317.3 590.45,317.32 590.79,317.33 591.12,317.3 591.46,317.24 591.8,317.13 592.14,316.96 592.48,316.72 592.81,316.41 593.15,316.03 593.49,315.56 593.83,315 594.16,314.35 594.5,313.6 594.84,312.74 595.18,311.77 595.51,310.7 595.85,309.53 596.19,308.27 596.52,306.94 596.86,305.57 597.2,304.21 597.54,302.9 597.88,301.71 598.21,300.71 598.55,299.94 598.89,299.45 599.23,299.25 599.56,299.32 599.9,299.64 600.24,300.13 600.58,300.74 600.91,301.4 601.25,302.05 601.59,302.65 601.93,303.17 602.26,303.57 602.6,303.86 602.94,304.01 603.27,304.03 603.61,303.9 603.95,303.64 604.29,303.25 604.62,302.72 604.96,302.05 605.3,301.25 605.64,300.31 605.98,299.23 606.31,298.02 606.65,296.66 606.99,295.16 607.33,293.52 607.66,291.73 608,289.78 608.34,287.68 608.68,285.44 609.01,283.04 609.35,280.5 609.69,277.83 610.02,275.03 610.36,272.14 610.7,269.17 611.04,266.16 611.38,263.15 611.71,260.19 612.05,257.33 612.39,254.65 612.73,252.21 613.06,250.08 613.4,248.32 613.74,247 614.08,246.15 614.41,245.83 614.75,246.04 615.09,246.77 615.43,248.01 615.76,249.7 616.1,251.81 616.44,254.27 616.77,257 617.11,259.94 617.45,263.03 617.79,266.2 618.12,269.4 618.46,272.59 618.8,275.73 619.14,278.78 619.48,281.74 619.81,284.58 620.15,287.29 620.49,289.87 620.83,292.31 621.16,294.62 621.5,296.8 621.84,298.85 622.18,300.78 622.51,302.59 622.85,304.28 623.19,305.87 623.52,307.37 623.86,308.77 624.2,310.08 624.54,311.31 624.88,312.46 625.21,313.55 625.55,314.57 625.89,315.52 626.23,316.43 626.56,317.27 626.9,318.07 627.24,318.82 627.58,319.53 627.91,320.21 628.25,320.84 628.59,321.44 628.93,322 629.26,322.54 629.6,323.05 629.94,323.53 630.27,323.99 630.61,324.43 630.95,324.84 631.29,325.23 631.62,325.61 631.96,325.96 632.3,326.3 632.64,326.63 632.98,326.94 633.31,327.23 633.65,327.52 633.99,327.79 634.33,328.05 634.66,328.3 635,328.53 635.34,328.76 635.68,328.98 636.01,329.19 636.35,329.39 636.69,329.59 637.03,329.77 637.36,329.95 637.7,330.13 638.04,330.29 638.38,330.45 638.71,330.61 639.05,330.76 639.39,330.9 639.73,331.04 640.06,331.17 640.4,331.3 640.74,331.43 641.08,331.55 641.41,331.67 641.75,331.78 642.09,331.89 642.42,331.99 642.76,332.1 643.1,332.2 643.44,332.29 643.78,332.39 644.11,332.48 644.45,332.57 644.79,332.65 645.12,332.74 645.46,332.82 645.8,332.9 646.14,332.97 646.48,333.05 646.81,333.12 647.15,333.19 647.49,333.26 647.83,333.33 648.16,333.39 648.5,333.45 648.84,333.52 649.17,333.58 649.51,333.64 649.85,333.69 650.19,333.75 650.53,333.8 650.86,333.86 651.2,333.91 651.54,333.96 651.88,334.01 652.21,334.06 652.55,334.1 652.89,334.15 653.23,334.19 653.56,334.24 653.9,334.28 654.24,334.32 654.58,334.36 654.91,334.41 655.25,334.44 655.59,334.48 655.92,334.52 656.26,334.56 656.6,334.59 656.94,334.63 657.28,334.66 657.61,334.7 657.95,334.73 658.29,334.76 658.62,334.8 658.96,334.83 659.3,334.86 659.64,334.89 659.98,334.92 660.31,334.95 660.65,334.98 660.99,335 661.33,335.03 661.66,335.06 662,335.09 662.34,335.11 662.67,335.14 663.01,335.16 663.35,335.19 663.69,335.21 664.03,335.23 664.36,335.26 664.7,335.28 665.04,335.3 665.38,335.33 665.71,335.35 666.05,335.37 666.39,335.39 666.73,335.41 667.06,335.43 667.4,335.45 667.74,335.47 668.08,335.49 668.41,335.51 668.75,335.53 669.09,335.55 669.42,335.57 669.76,335.58 670.1,335.6" fill="none" stroke="#449A56" stroke-width="1.0" stroke-linejoin="round"/>
<text x="665.9" y="291.5" font-size="10.1" text-anchor="end" fill="#EE8038">2.21 eV</text>
<text x="665.9" y="323.1" font-size="10.1" text-anchor="end" fill="#449A56">2.33 eV</text>
<polyline points="515.5,258.8 515.87,258.5 516.38,257.59 516.97,257.24 517.64,256.99 518.33,256.56 519.03,256.77 519.7,256.56 520.3,256.24 520.87,255.18 521.45,255.51 522.03,254.57 522.59,254.33 523.13,254.27 523.64,253.13 524.1,252.63 524.5,252.87 524.83,251.58 525.11,250.84 525.34,250.2 525.53,249.37 525.7,247.71 525.86,247.17 526.02,246.45 526.2,245.78 526.38,244.82 526.56,244.56 526.72,244.33 526.88,243.12 527.04,242.79 527.19,241.93 527.35,241.84 527.5,242.18 527.65,241.67 527.8,242.79 527.94,243.23 528.08,242.85 528.23,244.37 528.37,244.39 528.53,245.47 528.7,246.08 528.87,246.22 529.03,247.36 529.19,248.11 529.36,249.07 529.55,249.27 529.76,250.58 530.01,251.54 530.3,251.89 530.63,252.35 530.99,252.45 531.37,253.42 531.79,253.77 532.23,254.67 532.7,255.1 533.19,255.43 533.7,255.45 534.23,256.4 534.76,256.82 535.31,256.75 535.89,257.94 536.51,258.05 537.18,257.79 537.91,258.96 538.7,258.31 539.6,258.67 540.62,259.19 541.72,259.11 542.85,259.07 543.98,259.14 545.08,258.86 546.1,258.61 547,258.34 547.79,258.1 548.51,258.67 549.17,258.55 549.79,258.12 550.37,258.09 550.92,257.37 551.46,256.89 552,256.57 552.54,256.58 553.07,255.08 553.58,254.94 554.06,253.94 554.52,253.74 554.95,252.46 555.35,251.55 555.7,250.69 555.99,249.77 556.21,248.77 556.39,246.94 556.54,246.09 556.69,243.93 556.85,242.87 557.05,241.64 557.3,240.87 557.58,241.13 557.86,240.86 558.16,240.23 558.48,240.32 558.84,240.71 559.26,241.18 559.74,241.28 560.3,241.07 560.96,240.63 561.71,239.8 562.54,239.7 563.42,239.04 564.32,238.96 565.24,238.53 566.14,237.65 567,237.23 567.86,237.34 568.74,236.03 569.63,236.39 570.51,235.99 571.38,235.53 572.21,234.36 572.99,233.97 573.7,233.39 574.35,232.81 574.95,232.53 575.5,231.52 576.01,230.39 576.49,230.27 576.95,229.09 577.38,228.43 577.8,227.75 578.2,226.1 578.57,226.04 578.92,224.99 579.24,223.85 579.54,222.91 579.82,221.87 580.07,220.61 580.3,220.03 580.5,218.5 580.68,217.95 580.83,217.02 580.96,215.72 581.06,214.84 581.16,214.35 581.23,213.51 581.3,212.1" fill="none" stroke="#EA7A30" stroke-width="1.3" stroke-linejoin="round"/>
<polyline points="515.5,264.52 515.88,264.34 516.39,263.72 517,264.07 517.67,263.94 518.37,263.78 519.06,264.28 519.72,264.7 520.3,264.01 520.81,264.56 521.3,264.32 521.76,263.63 522.21,264.36 522.65,263.99 523.09,264.26 523.54,263.94 524,263.86 524.47,263.31 524.96,263.66 525.44,263.62 525.93,263.37 526.41,262.75 526.89,262.97 527.35,262.6 527.8,262.17 528.23,262.16 528.65,262.33 529.07,262.64 529.47,262.8 529.86,263.4 530.25,263.84 530.63,263.87 531,263.91 531.29,264.31 531.46,264.07 531.58,264.37 531.72,264.82 531.93,264.55 532.29,264.42 532.86,265.33 533.7,265.24 534.91,264.98 536.47,265.13 538.28,265.45 540.21,265.67 542.15,265.38 544.01,265.23 545.66,265.5 547,266.11 548.03,265.34 548.85,265.59 549.52,265.15 550.07,264.99 550.55,264.73 551,264.73 551.47,264.18 552,263.68 552.58,263.41 553.18,263.1 553.77,263.06 554.34,262.14 554.89,261.59 555.39,261.46 555.83,260.72 556.2,260.22 556.47,258.47 556.65,257.58 556.76,256.14 556.83,254.25 556.88,253.82 556.96,251.66 557.09,250.39 557.3,249.97 557.56,249.12 557.83,249.38 558.12,249.01 558.45,248.84 558.82,248.89 559.25,249.76 559.73,249.32 560.3,249.82 560.96,249.3 561.71,249.63 562.54,248.74 563.42,248.46 564.32,248.22 565.24,248.54 566.14,248.01 567,247.33 567.86,246.64 568.74,246.84 569.63,246.67 570.51,245.74 571.38,244.54 572.21,244 572.99,243.47 573.7,242.94 574.35,242.17 574.95,241.55 575.5,241.56 576.01,241.15 576.49,239.67 576.95,239.75 577.38,238.37 577.8,237.83 578.2,236.96 578.57,235.88 578.92,233.71 579.24,232.79 579.54,231.89 579.82,231.05 580.07,228.94 580.3,228.07 580.5,227.61 580.68,225.71 580.83,224.91 580.96,223.79 581.06,223.19 581.16,222.58 581.23,221.01 581.3,221.06" fill="none" stroke="#2F8C40" stroke-width="1.3" stroke-linejoin="round"/>
</svg>
</body></html>
